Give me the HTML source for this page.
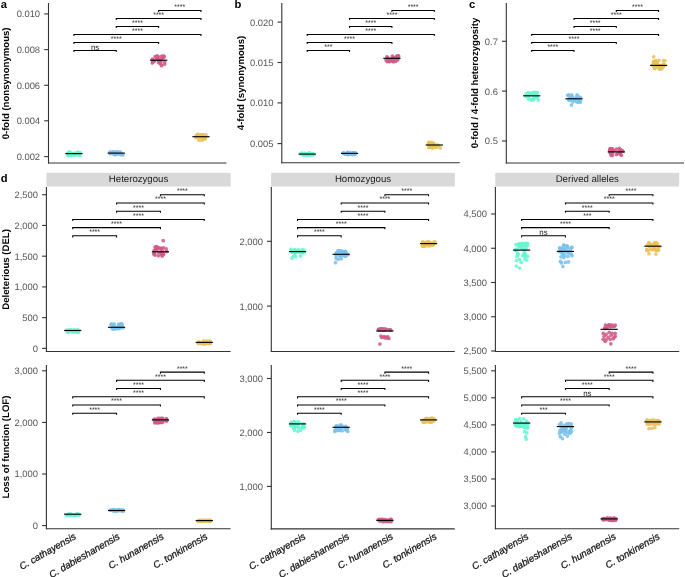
<!DOCTYPE html>
<html><head><meta charset="utf-8"><style>
html,body{margin:0;padding:0;background:#fff;}
body{width:685px;height:577px;overflow:hidden;}
svg{display:block;will-change:transform;}
text{font-family:"Liberation Sans", sans-serif;text-rendering:geometricPrecision;}
.tk{font-size:9.4px;fill:#555;}
.st{font-size:7px;fill:#222;}
.ns{font-size:7.9px;fill:#222;}
.sp{font-size:9.65px;fill:#1a1a1a;}
.lt{font-size:11.2px;font-weight:bold;fill:#000;}
.yt{font-size:9.6px;font-weight:bold;fill:#000;}
.xl{font-size:9.7px;font-style:italic;fill:#111;stroke:#111;stroke-width:0.25px;}
</style></head><body>
<svg width="685" height="577" viewBox="0 0 685 577">
<rect width="685" height="577" fill="#fff"/>
<line x1="48.5" y1="3" x2="48.5" y2="163.5" stroke="#333333" stroke-width="1.1"/>
<line x1="48" y1="163" x2="226.4" y2="163" stroke="#333333" stroke-width="1.1"/>
<line x1="44.2" y1="156.6" x2="48.5" y2="156.6" stroke="#333333" stroke-width="1.1"/>
<text x="40.1" y="160" text-anchor="end" class="tk">0.002</text>
<line x1="44.2" y1="120.8" x2="48.5" y2="120.8" stroke="#333333" stroke-width="1.1"/>
<text x="40.1" y="124.2" text-anchor="end" class="tk">0.004</text>
<line x1="44.2" y1="85.3" x2="48.5" y2="85.3" stroke="#333333" stroke-width="1.1"/>
<text x="40.1" y="88.7" text-anchor="end" class="tk">0.006</text>
<line x1="44.2" y1="49.6" x2="48.5" y2="49.6" stroke="#333333" stroke-width="1.1"/>
<text x="40.1" y="53" text-anchor="end" class="tk">0.008</text>
<line x1="44.2" y1="13.9" x2="48.5" y2="13.9" stroke="#333333" stroke-width="1.1"/>
<text x="40.1" y="17.3" text-anchor="end" class="tk">0.010</text>
<circle cx="72.98" cy="153.98" r="1.85" fill="#66f7d3" fill-opacity="0.88"/>
<circle cx="70.03" cy="154" r="1.85" fill="#66f7d3" fill-opacity="0.88"/>
<circle cx="78.19" cy="154.92" r="1.85" fill="#66f7d3" fill-opacity="0.88"/>
<circle cx="69.43" cy="154.3" r="1.85" fill="#66f7d3" fill-opacity="0.88"/>
<circle cx="71.64" cy="153.78" r="1.85" fill="#66f7d3" fill-opacity="0.88"/>
<circle cx="79.89" cy="152.72" r="1.85" fill="#66f7d3" fill-opacity="0.88"/>
<circle cx="67.9" cy="155.64" r="1.85" fill="#66f7d3" fill-opacity="0.88"/>
<circle cx="75.28" cy="155.1" r="1.85" fill="#66f7d3" fill-opacity="0.88"/>
<circle cx="71.06" cy="153.24" r="1.85" fill="#66f7d3" fill-opacity="0.88"/>
<circle cx="73.34" cy="154.38" r="1.85" fill="#66f7d3" fill-opacity="0.88"/>
<circle cx="76.05" cy="154.42" r="1.85" fill="#66f7d3" fill-opacity="0.88"/>
<circle cx="77.45" cy="152.27" r="1.85" fill="#66f7d3" fill-opacity="0.88"/>
<circle cx="80.11" cy="155.58" r="1.85" fill="#66f7d3" fill-opacity="0.88"/>
<circle cx="67.9" cy="154.14" r="1.85" fill="#66f7d3" fill-opacity="0.88"/>
<circle cx="69.08" cy="151.77" r="1.85" fill="#66f7d3" fill-opacity="0.88"/>
<circle cx="71.31" cy="155.42" r="1.85" fill="#66f7d3" fill-opacity="0.88"/>
<circle cx="79.17" cy="153.18" r="1.85" fill="#66f7d3" fill-opacity="0.88"/>
<circle cx="74.56" cy="152.98" r="1.85" fill="#66f7d3" fill-opacity="0.88"/>
<circle cx="68.17" cy="153.45" r="1.85" fill="#66f7d3" fill-opacity="0.88"/>
<circle cx="78.46" cy="154.03" r="1.85" fill="#66f7d3" fill-opacity="0.88"/>
<circle cx="70.28" cy="152.36" r="1.85" fill="#66f7d3" fill-opacity="0.88"/>
<circle cx="67.8" cy="153.36" r="1.85" fill="#66f7d3" fill-opacity="0.88"/>
<circle cx="78.11" cy="153.69" r="1.85" fill="#66f7d3" fill-opacity="0.88"/>
<circle cx="74.36" cy="154.32" r="1.85" fill="#66f7d3" fill-opacity="0.88"/>
<circle cx="69.29" cy="155.08" r="1.85" fill="#66f7d3" fill-opacity="0.88"/>
<circle cx="72.25" cy="153.96" r="1.85" fill="#66f7d3" fill-opacity="0.88"/>
<circle cx="68.8" cy="154.1" r="1.85" fill="#66f7d3" fill-opacity="0.88"/>
<circle cx="68.59" cy="154.77" r="1.85" fill="#66f7d3" fill-opacity="0.88"/>
<circle cx="77.97" cy="152.4" r="1.85" fill="#66f7d3" fill-opacity="0.88"/>
<circle cx="73.03" cy="155.45" r="1.85" fill="#66f7d3" fill-opacity="0.88"/>
<line x1="65.31" y1="153.6" x2="82.51" y2="153.6" stroke="#000" stroke-width="1.15"/>
<circle cx="117.06" cy="153.06" r="1.85" fill="#7cc2eb" fill-opacity="0.88"/>
<circle cx="115.82" cy="154.43" r="1.85" fill="#7cc2eb" fill-opacity="0.88"/>
<circle cx="117.42" cy="153.22" r="1.85" fill="#7cc2eb" fill-opacity="0.88"/>
<circle cx="116.43" cy="152.29" r="1.85" fill="#7cc2eb" fill-opacity="0.88"/>
<circle cx="120.14" cy="153.58" r="1.85" fill="#7cc2eb" fill-opacity="0.88"/>
<circle cx="113.68" cy="152.02" r="1.85" fill="#7cc2eb" fill-opacity="0.88"/>
<circle cx="120.36" cy="152.01" r="1.85" fill="#7cc2eb" fill-opacity="0.88"/>
<circle cx="110.22" cy="153.76" r="1.85" fill="#7cc2eb" fill-opacity="0.88"/>
<circle cx="122.41" cy="154.6" r="1.85" fill="#7cc2eb" fill-opacity="0.88"/>
<circle cx="117.8" cy="153.65" r="1.85" fill="#7cc2eb" fill-opacity="0.88"/>
<circle cx="109.87" cy="152.21" r="1.85" fill="#7cc2eb" fill-opacity="0.88"/>
<circle cx="110.46" cy="153.28" r="1.85" fill="#7cc2eb" fill-opacity="0.88"/>
<circle cx="112.87" cy="152.3" r="1.85" fill="#7cc2eb" fill-opacity="0.88"/>
<circle cx="115.8" cy="151.84" r="1.85" fill="#7cc2eb" fill-opacity="0.88"/>
<circle cx="120.79" cy="153.03" r="1.85" fill="#7cc2eb" fill-opacity="0.88"/>
<circle cx="118.12" cy="153.26" r="1.85" fill="#7cc2eb" fill-opacity="0.88"/>
<circle cx="118.42" cy="153.2" r="1.85" fill="#7cc2eb" fill-opacity="0.88"/>
<circle cx="113.34" cy="153.08" r="1.85" fill="#7cc2eb" fill-opacity="0.88"/>
<circle cx="122.81" cy="154.64" r="1.85" fill="#7cc2eb" fill-opacity="0.88"/>
<circle cx="119.01" cy="154.19" r="1.85" fill="#7cc2eb" fill-opacity="0.88"/>
<circle cx="112.7" cy="152.66" r="1.85" fill="#7cc2eb" fill-opacity="0.88"/>
<circle cx="110.6" cy="152.59" r="1.85" fill="#7cc2eb" fill-opacity="0.88"/>
<circle cx="114.96" cy="153.97" r="1.85" fill="#7cc2eb" fill-opacity="0.88"/>
<circle cx="114.77" cy="154.21" r="1.85" fill="#7cc2eb" fill-opacity="0.88"/>
<circle cx="120.86" cy="154.53" r="1.85" fill="#7cc2eb" fill-opacity="0.88"/>
<circle cx="112.44" cy="151.75" r="1.85" fill="#7cc2eb" fill-opacity="0.88"/>
<circle cx="115.88" cy="154.39" r="1.85" fill="#7cc2eb" fill-opacity="0.88"/>
<circle cx="114.92" cy="154.59" r="1.85" fill="#7cc2eb" fill-opacity="0.88"/>
<circle cx="117.98" cy="151.96" r="1.85" fill="#7cc2eb" fill-opacity="0.88"/>
<circle cx="113.23" cy="154.01" r="1.85" fill="#7cc2eb" fill-opacity="0.88"/>
<line x1="107.67" y1="153.1" x2="124.87" y2="153.1" stroke="#000" stroke-width="1.15"/>
<circle cx="160.71" cy="59.78" r="1.85" fill="#d05b88" fill-opacity="0.88"/>
<circle cx="153.91" cy="61.45" r="1.85" fill="#d05b88" fill-opacity="0.88"/>
<circle cx="156.98" cy="55.74" r="1.85" fill="#d05b88" fill-opacity="0.88"/>
<circle cx="162.73" cy="58.03" r="1.85" fill="#d05b88" fill-opacity="0.88"/>
<circle cx="159.97" cy="61.66" r="1.85" fill="#d05b88" fill-opacity="0.88"/>
<circle cx="160.76" cy="60.51" r="1.85" fill="#d05b88" fill-opacity="0.88"/>
<circle cx="157.84" cy="56.91" r="1.85" fill="#d05b88" fill-opacity="0.88"/>
<circle cx="163.99" cy="57.06" r="1.85" fill="#d05b88" fill-opacity="0.88"/>
<circle cx="162.84" cy="56.16" r="1.85" fill="#d05b88" fill-opacity="0.88"/>
<circle cx="161.1" cy="56.3" r="1.85" fill="#d05b88" fill-opacity="0.88"/>
<circle cx="157.37" cy="58.58" r="1.85" fill="#d05b88" fill-opacity="0.88"/>
<circle cx="152.27" cy="62.98" r="1.85" fill="#d05b88" fill-opacity="0.88"/>
<circle cx="164.11" cy="56.18" r="1.85" fill="#d05b88" fill-opacity="0.88"/>
<circle cx="153.23" cy="60.08" r="1.85" fill="#d05b88" fill-opacity="0.88"/>
<circle cx="164.53" cy="64.24" r="1.85" fill="#d05b88" fill-opacity="0.88"/>
<circle cx="157.61" cy="56.63" r="1.85" fill="#d05b88" fill-opacity="0.88"/>
<circle cx="156.15" cy="56.83" r="1.85" fill="#d05b88" fill-opacity="0.88"/>
<circle cx="154.19" cy="61.06" r="1.85" fill="#d05b88" fill-opacity="0.88"/>
<circle cx="152.71" cy="61.71" r="1.85" fill="#d05b88" fill-opacity="0.88"/>
<circle cx="162.8" cy="57.14" r="1.85" fill="#d05b88" fill-opacity="0.88"/>
<circle cx="157.56" cy="59.13" r="1.85" fill="#d05b88" fill-opacity="0.88"/>
<circle cx="158.32" cy="60.83" r="1.85" fill="#d05b88" fill-opacity="0.88"/>
<circle cx="152.43" cy="59" r="1.85" fill="#d05b88" fill-opacity="0.88"/>
<circle cx="164.8" cy="61.97" r="1.85" fill="#d05b88" fill-opacity="0.88"/>
<circle cx="160.79" cy="64.14" r="1.85" fill="#d05b88" fill-opacity="0.88"/>
<circle cx="156.82" cy="58.75" r="1.85" fill="#d05b88" fill-opacity="0.88"/>
<circle cx="160.92" cy="61.65" r="1.85" fill="#d05b88" fill-opacity="0.88"/>
<circle cx="155.13" cy="56.64" r="1.85" fill="#d05b88" fill-opacity="0.88"/>
<circle cx="158.78" cy="58.81" r="1.85" fill="#d05b88" fill-opacity="0.88"/>
<circle cx="158.63" cy="62.7" r="1.85" fill="#d05b88" fill-opacity="0.88"/>
<circle cx="161.63" cy="65.7" r="1.85" fill="#d05b88" fill-opacity="0.88"/>
<line x1="150.03" y1="60.2" x2="167.23" y2="60.2" stroke="#000" stroke-width="1.15"/>
<circle cx="203.43" cy="135.49" r="1.85" fill="#e9c259" fill-opacity="0.88"/>
<circle cx="205.6" cy="137.53" r="1.85" fill="#e9c259" fill-opacity="0.88"/>
<circle cx="197.43" cy="135.14" r="1.85" fill="#e9c259" fill-opacity="0.88"/>
<circle cx="197.36" cy="134.96" r="1.85" fill="#e9c259" fill-opacity="0.88"/>
<circle cx="196.1" cy="137.77" r="1.85" fill="#e9c259" fill-opacity="0.88"/>
<circle cx="197.21" cy="136.8" r="1.85" fill="#e9c259" fill-opacity="0.88"/>
<circle cx="200.08" cy="135.66" r="1.85" fill="#e9c259" fill-opacity="0.88"/>
<circle cx="202.42" cy="138.27" r="1.85" fill="#e9c259" fill-opacity="0.88"/>
<circle cx="198.03" cy="134.32" r="1.85" fill="#e9c259" fill-opacity="0.88"/>
<circle cx="205.89" cy="134.95" r="1.85" fill="#e9c259" fill-opacity="0.88"/>
<circle cx="205.03" cy="138.14" r="1.85" fill="#e9c259" fill-opacity="0.88"/>
<circle cx="204.22" cy="138.22" r="1.85" fill="#e9c259" fill-opacity="0.88"/>
<circle cx="204.86" cy="138.81" r="1.85" fill="#e9c259" fill-opacity="0.88"/>
<circle cx="205.6" cy="135.48" r="1.85" fill="#e9c259" fill-opacity="0.88"/>
<circle cx="204.35" cy="136.59" r="1.85" fill="#e9c259" fill-opacity="0.88"/>
<circle cx="200.06" cy="136.96" r="1.85" fill="#e9c259" fill-opacity="0.88"/>
<circle cx="200.06" cy="136" r="1.85" fill="#e9c259" fill-opacity="0.88"/>
<circle cx="195.93" cy="135.76" r="1.85" fill="#e9c259" fill-opacity="0.88"/>
<circle cx="204.92" cy="138.18" r="1.85" fill="#e9c259" fill-opacity="0.88"/>
<circle cx="203.51" cy="138.98" r="1.85" fill="#e9c259" fill-opacity="0.88"/>
<circle cx="204.26" cy="136.91" r="1.85" fill="#e9c259" fill-opacity="0.88"/>
<circle cx="203.32" cy="134.9" r="1.85" fill="#e9c259" fill-opacity="0.88"/>
<circle cx="196.72" cy="136.38" r="1.85" fill="#e9c259" fill-opacity="0.88"/>
<circle cx="201.29" cy="135.22" r="1.85" fill="#e9c259" fill-opacity="0.88"/>
<circle cx="200.45" cy="135.47" r="1.85" fill="#e9c259" fill-opacity="0.88"/>
<circle cx="199.61" cy="137.16" r="1.85" fill="#e9c259" fill-opacity="0.88"/>
<circle cx="200.87" cy="134.88" r="1.85" fill="#e9c259" fill-opacity="0.88"/>
<circle cx="197.5" cy="135.38" r="1.85" fill="#e9c259" fill-opacity="0.88"/>
<circle cx="199.22" cy="135.18" r="1.85" fill="#e9c259" fill-opacity="0.88"/>
<circle cx="202.98" cy="134.6" r="1.85" fill="#e9c259" fill-opacity="0.88"/>
<circle cx="198.99" cy="140.2" r="1.85" fill="#e9c259" fill-opacity="0.88"/>
<circle cx="201.99" cy="140.3" r="1.85" fill="#e9c259" fill-opacity="0.88"/>
<line x1="192.39" y1="136.7" x2="209.59" y2="136.7" stroke="#000" stroke-width="1.15"/>
<path d="M73.91 52V50.4H116.27V52" fill="none" stroke="#000" stroke-width="1.05"/>
<text x="95.09" y="49.5" text-anchor="middle" class="ns">ns</text>
<path d="M73.91 44V42.4H158.63V44" fill="none" stroke="#000" stroke-width="1.05"/>
<text x="116.27" y="40.8" text-anchor="middle" class="st">****</text>
<path d="M73.91 36V34.4H200.99V36" fill="none" stroke="#000" stroke-width="1.05"/>
<text x="137.45" y="32.8" text-anchor="middle" class="st">****</text>
<path d="M116.27 28V26.4H158.63V28" fill="none" stroke="#000" stroke-width="1.05"/>
<text x="137.45" y="24.8" text-anchor="middle" class="st">****</text>
<path d="M116.27 20.1V18.5H200.99V20.1" fill="none" stroke="#000" stroke-width="1.05"/>
<text x="158.63" y="16.9" text-anchor="middle" class="st">****</text>
<path d="M158.63 12.1V10.5H200.99V12.1" fill="none" stroke="#000" stroke-width="1.05"/>
<text x="179.81" y="8.9" text-anchor="middle" class="st">****</text>
<line x1="281.8" y1="3" x2="281.8" y2="163.2" stroke="#333333" stroke-width="1.1"/>
<line x1="281.3" y1="162.7" x2="459.7" y2="162.7" stroke="#333333" stroke-width="1.1"/>
<line x1="277.5" y1="143.6" x2="281.8" y2="143.6" stroke="#333333" stroke-width="1.1"/>
<text x="273.4" y="147" text-anchor="end" class="tk">0.005</text>
<line x1="277.5" y1="102.9" x2="281.8" y2="102.9" stroke="#333333" stroke-width="1.1"/>
<text x="273.4" y="106.3" text-anchor="end" class="tk">0.010</text>
<line x1="277.5" y1="62.5" x2="281.8" y2="62.5" stroke="#333333" stroke-width="1.1"/>
<text x="273.4" y="65.9" text-anchor="end" class="tk">0.015</text>
<line x1="277.5" y1="22.1" x2="281.8" y2="22.1" stroke="#333333" stroke-width="1.1"/>
<text x="273.4" y="25.5" text-anchor="end" class="tk">0.020</text>
<circle cx="309.67" cy="155.05" r="1.85" fill="#66f7d3" fill-opacity="0.88"/>
<circle cx="312.56" cy="154.76" r="1.85" fill="#66f7d3" fill-opacity="0.88"/>
<circle cx="309.01" cy="153.7" r="1.85" fill="#66f7d3" fill-opacity="0.88"/>
<circle cx="312.13" cy="155.05" r="1.85" fill="#66f7d3" fill-opacity="0.88"/>
<circle cx="302.85" cy="154.35" r="1.85" fill="#66f7d3" fill-opacity="0.88"/>
<circle cx="313.73" cy="154.01" r="1.85" fill="#66f7d3" fill-opacity="0.88"/>
<circle cx="304.83" cy="153.37" r="1.85" fill="#66f7d3" fill-opacity="0.88"/>
<circle cx="306.55" cy="155.15" r="1.85" fill="#66f7d3" fill-opacity="0.88"/>
<circle cx="304.8" cy="153.59" r="1.85" fill="#66f7d3" fill-opacity="0.88"/>
<circle cx="305.04" cy="155.06" r="1.85" fill="#66f7d3" fill-opacity="0.88"/>
<circle cx="308.9" cy="154.05" r="1.85" fill="#66f7d3" fill-opacity="0.88"/>
<circle cx="307.11" cy="154.84" r="1.85" fill="#66f7d3" fill-opacity="0.88"/>
<circle cx="308.18" cy="153.32" r="1.85" fill="#66f7d3" fill-opacity="0.88"/>
<circle cx="301.86" cy="153.22" r="1.85" fill="#66f7d3" fill-opacity="0.88"/>
<circle cx="309.77" cy="153.55" r="1.85" fill="#66f7d3" fill-opacity="0.88"/>
<circle cx="309.73" cy="153.75" r="1.85" fill="#66f7d3" fill-opacity="0.88"/>
<circle cx="302.17" cy="153.49" r="1.85" fill="#66f7d3" fill-opacity="0.88"/>
<circle cx="309.93" cy="153.2" r="1.85" fill="#66f7d3" fill-opacity="0.88"/>
<circle cx="303.51" cy="154.95" r="1.85" fill="#66f7d3" fill-opacity="0.88"/>
<circle cx="300.79" cy="153.65" r="1.85" fill="#66f7d3" fill-opacity="0.88"/>
<circle cx="304.58" cy="154.5" r="1.85" fill="#66f7d3" fill-opacity="0.88"/>
<circle cx="309.15" cy="153.44" r="1.85" fill="#66f7d3" fill-opacity="0.88"/>
<circle cx="306.52" cy="154.41" r="1.85" fill="#66f7d3" fill-opacity="0.88"/>
<circle cx="309.04" cy="153.47" r="1.85" fill="#66f7d3" fill-opacity="0.88"/>
<circle cx="306.33" cy="154.32" r="1.85" fill="#66f7d3" fill-opacity="0.88"/>
<circle cx="312.87" cy="153.5" r="1.85" fill="#66f7d3" fill-opacity="0.88"/>
<circle cx="309.72" cy="154.96" r="1.85" fill="#66f7d3" fill-opacity="0.88"/>
<circle cx="308.28" cy="155.24" r="1.85" fill="#66f7d3" fill-opacity="0.88"/>
<circle cx="302.15" cy="153.87" r="1.85" fill="#66f7d3" fill-opacity="0.88"/>
<circle cx="307.47" cy="154.43" r="1.85" fill="#66f7d3" fill-opacity="0.88"/>
<line x1="298.61" y1="154.1" x2="315.81" y2="154.1" stroke="#000" stroke-width="1.15"/>
<circle cx="352.08" cy="152.8" r="1.85" fill="#7cc2eb" fill-opacity="0.88"/>
<circle cx="349.3" cy="153.78" r="1.85" fill="#7cc2eb" fill-opacity="0.88"/>
<circle cx="353.43" cy="152.9" r="1.85" fill="#7cc2eb" fill-opacity="0.88"/>
<circle cx="349.74" cy="154.15" r="1.85" fill="#7cc2eb" fill-opacity="0.88"/>
<circle cx="346.09" cy="153.51" r="1.85" fill="#7cc2eb" fill-opacity="0.88"/>
<circle cx="347.87" cy="152.46" r="1.85" fill="#7cc2eb" fill-opacity="0.88"/>
<circle cx="343.89" cy="153.68" r="1.85" fill="#7cc2eb" fill-opacity="0.88"/>
<circle cx="346.04" cy="154.12" r="1.85" fill="#7cc2eb" fill-opacity="0.88"/>
<circle cx="343.53" cy="152.94" r="1.85" fill="#7cc2eb" fill-opacity="0.88"/>
<circle cx="352.72" cy="154.54" r="1.85" fill="#7cc2eb" fill-opacity="0.88"/>
<circle cx="351.1" cy="154.29" r="1.85" fill="#7cc2eb" fill-opacity="0.88"/>
<circle cx="347.31" cy="152.52" r="1.85" fill="#7cc2eb" fill-opacity="0.88"/>
<circle cx="344.5" cy="153.49" r="1.85" fill="#7cc2eb" fill-opacity="0.88"/>
<circle cx="347.83" cy="154.45" r="1.85" fill="#7cc2eb" fill-opacity="0.88"/>
<circle cx="353.76" cy="152.78" r="1.85" fill="#7cc2eb" fill-opacity="0.88"/>
<circle cx="355.22" cy="152.71" r="1.85" fill="#7cc2eb" fill-opacity="0.88"/>
<circle cx="350.26" cy="153.4" r="1.85" fill="#7cc2eb" fill-opacity="0.88"/>
<circle cx="349.37" cy="153.17" r="1.85" fill="#7cc2eb" fill-opacity="0.88"/>
<circle cx="343.46" cy="152.84" r="1.85" fill="#7cc2eb" fill-opacity="0.88"/>
<circle cx="346.07" cy="154.27" r="1.85" fill="#7cc2eb" fill-opacity="0.88"/>
<circle cx="345.72" cy="154.09" r="1.85" fill="#7cc2eb" fill-opacity="0.88"/>
<circle cx="354.77" cy="154.48" r="1.85" fill="#7cc2eb" fill-opacity="0.88"/>
<circle cx="353.04" cy="154.04" r="1.85" fill="#7cc2eb" fill-opacity="0.88"/>
<circle cx="352.6" cy="153.67" r="1.85" fill="#7cc2eb" fill-opacity="0.88"/>
<circle cx="349.26" cy="152.71" r="1.85" fill="#7cc2eb" fill-opacity="0.88"/>
<circle cx="345.63" cy="154.19" r="1.85" fill="#7cc2eb" fill-opacity="0.88"/>
<circle cx="354.69" cy="154.39" r="1.85" fill="#7cc2eb" fill-opacity="0.88"/>
<circle cx="347.79" cy="153.31" r="1.85" fill="#7cc2eb" fill-opacity="0.88"/>
<circle cx="348.06" cy="153.4" r="1.85" fill="#7cc2eb" fill-opacity="0.88"/>
<circle cx="348.07" cy="154.54" r="1.85" fill="#7cc2eb" fill-opacity="0.88"/>
<line x1="340.97" y1="153.4" x2="358.17" y2="153.4" stroke="#000" stroke-width="1.15"/>
<circle cx="387.18" cy="61.6" r="1.85" fill="#d05b88" fill-opacity="0.88"/>
<circle cx="398.51" cy="55.89" r="1.85" fill="#d05b88" fill-opacity="0.88"/>
<circle cx="386.92" cy="56.87" r="1.85" fill="#d05b88" fill-opacity="0.88"/>
<circle cx="389.89" cy="59.72" r="1.85" fill="#d05b88" fill-opacity="0.88"/>
<circle cx="388.39" cy="61.18" r="1.85" fill="#d05b88" fill-opacity="0.88"/>
<circle cx="389.55" cy="61.6" r="1.85" fill="#d05b88" fill-opacity="0.88"/>
<circle cx="397.63" cy="59.42" r="1.85" fill="#d05b88" fill-opacity="0.88"/>
<circle cx="397.52" cy="59.93" r="1.85" fill="#d05b88" fill-opacity="0.88"/>
<circle cx="385.97" cy="60.07" r="1.85" fill="#d05b88" fill-opacity="0.88"/>
<circle cx="393.11" cy="61.13" r="1.85" fill="#d05b88" fill-opacity="0.88"/>
<circle cx="387.84" cy="57.65" r="1.85" fill="#d05b88" fill-opacity="0.88"/>
<circle cx="393.02" cy="60.93" r="1.85" fill="#d05b88" fill-opacity="0.88"/>
<circle cx="395.54" cy="61.47" r="1.85" fill="#d05b88" fill-opacity="0.88"/>
<circle cx="392.8" cy="61.61" r="1.85" fill="#d05b88" fill-opacity="0.88"/>
<circle cx="393.41" cy="60.01" r="1.85" fill="#d05b88" fill-opacity="0.88"/>
<circle cx="397.96" cy="57.33" r="1.85" fill="#d05b88" fill-opacity="0.88"/>
<circle cx="395.64" cy="57.66" r="1.85" fill="#d05b88" fill-opacity="0.88"/>
<circle cx="393.92" cy="61.57" r="1.85" fill="#d05b88" fill-opacity="0.88"/>
<circle cx="396.22" cy="56.62" r="1.85" fill="#d05b88" fill-opacity="0.88"/>
<circle cx="387.77" cy="59.82" r="1.85" fill="#d05b88" fill-opacity="0.88"/>
<circle cx="392.35" cy="56.05" r="1.85" fill="#d05b88" fill-opacity="0.88"/>
<circle cx="397.54" cy="55.95" r="1.85" fill="#d05b88" fill-opacity="0.88"/>
<circle cx="392.16" cy="58.84" r="1.85" fill="#d05b88" fill-opacity="0.88"/>
<circle cx="394.05" cy="58.25" r="1.85" fill="#d05b88" fill-opacity="0.88"/>
<circle cx="389.39" cy="61.34" r="1.85" fill="#d05b88" fill-opacity="0.88"/>
<circle cx="393.02" cy="58.03" r="1.85" fill="#d05b88" fill-opacity="0.88"/>
<circle cx="393.19" cy="57.56" r="1.85" fill="#d05b88" fill-opacity="0.88"/>
<circle cx="391.05" cy="59.06" r="1.85" fill="#d05b88" fill-opacity="0.88"/>
<circle cx="392.3" cy="59.86" r="1.85" fill="#d05b88" fill-opacity="0.88"/>
<circle cx="398.48" cy="56.29" r="1.85" fill="#d05b88" fill-opacity="0.88"/>
<line x1="383.33" y1="58.3" x2="400.53" y2="58.3" stroke="#000" stroke-width="1.15"/>
<circle cx="440.21" cy="147.79" r="1.85" fill="#e9c259" fill-opacity="0.88"/>
<circle cx="428.79" cy="147.59" r="1.85" fill="#e9c259" fill-opacity="0.88"/>
<circle cx="433.28" cy="145.76" r="1.85" fill="#e9c259" fill-opacity="0.88"/>
<circle cx="429.41" cy="145.38" r="1.85" fill="#e9c259" fill-opacity="0.88"/>
<circle cx="433.55" cy="143.32" r="1.85" fill="#e9c259" fill-opacity="0.88"/>
<circle cx="433.69" cy="143.5" r="1.85" fill="#e9c259" fill-opacity="0.88"/>
<circle cx="428.82" cy="142.3" r="1.85" fill="#e9c259" fill-opacity="0.88"/>
<circle cx="433.25" cy="146.48" r="1.85" fill="#e9c259" fill-opacity="0.88"/>
<circle cx="437.38" cy="145.28" r="1.85" fill="#e9c259" fill-opacity="0.88"/>
<circle cx="428.45" cy="144.34" r="1.85" fill="#e9c259" fill-opacity="0.88"/>
<circle cx="435.46" cy="146.93" r="1.85" fill="#e9c259" fill-opacity="0.88"/>
<circle cx="435.88" cy="146.16" r="1.85" fill="#e9c259" fill-opacity="0.88"/>
<circle cx="432.47" cy="148.07" r="1.85" fill="#e9c259" fill-opacity="0.88"/>
<circle cx="432.55" cy="146.78" r="1.85" fill="#e9c259" fill-opacity="0.88"/>
<circle cx="436.4" cy="145.64" r="1.85" fill="#e9c259" fill-opacity="0.88"/>
<circle cx="428.82" cy="144.07" r="1.85" fill="#e9c259" fill-opacity="0.88"/>
<circle cx="437.16" cy="145.04" r="1.85" fill="#e9c259" fill-opacity="0.88"/>
<circle cx="433.59" cy="145.75" r="1.85" fill="#e9c259" fill-opacity="0.88"/>
<circle cx="430.09" cy="146.07" r="1.85" fill="#e9c259" fill-opacity="0.88"/>
<circle cx="431.95" cy="143.24" r="1.85" fill="#e9c259" fill-opacity="0.88"/>
<circle cx="430.27" cy="147.13" r="1.85" fill="#e9c259" fill-opacity="0.88"/>
<circle cx="428.99" cy="142.85" r="1.85" fill="#e9c259" fill-opacity="0.88"/>
<circle cx="431.32" cy="142.39" r="1.85" fill="#e9c259" fill-opacity="0.88"/>
<circle cx="438.52" cy="145.64" r="1.85" fill="#e9c259" fill-opacity="0.88"/>
<circle cx="432.57" cy="144.17" r="1.85" fill="#e9c259" fill-opacity="0.88"/>
<circle cx="431.71" cy="143.91" r="1.85" fill="#e9c259" fill-opacity="0.88"/>
<circle cx="434.93" cy="146.89" r="1.85" fill="#e9c259" fill-opacity="0.88"/>
<circle cx="429.1" cy="143.73" r="1.85" fill="#e9c259" fill-opacity="0.88"/>
<circle cx="437.02" cy="146.93" r="1.85" fill="#e9c259" fill-opacity="0.88"/>
<circle cx="430.83" cy="147.2" r="1.85" fill="#e9c259" fill-opacity="0.88"/>
<line x1="425.69" y1="145" x2="442.89" y2="145" stroke="#000" stroke-width="1.15"/>
<path d="M307.21 52V50.4H349.57V52" fill="none" stroke="#000" stroke-width="1.05"/>
<text x="328.39" y="48.8" text-anchor="middle" class="st">***</text>
<path d="M307.21 44V42.4H391.93V44" fill="none" stroke="#000" stroke-width="1.05"/>
<text x="349.57" y="40.8" text-anchor="middle" class="st">****</text>
<path d="M307.21 36V34.4H434.29V36" fill="none" stroke="#000" stroke-width="1.05"/>
<text x="370.75" y="32.8" text-anchor="middle" class="st">****</text>
<path d="M349.57 28V26.4H391.93V28" fill="none" stroke="#000" stroke-width="1.05"/>
<text x="370.75" y="24.8" text-anchor="middle" class="st">****</text>
<path d="M349.57 20.1V18.5H434.29V20.1" fill="none" stroke="#000" stroke-width="1.05"/>
<text x="391.93" y="16.9" text-anchor="middle" class="st">****</text>
<path d="M391.93 12.1V10.5H434.29V12.1" fill="none" stroke="#000" stroke-width="1.05"/>
<text x="413.11" y="8.9" text-anchor="middle" class="st">****</text>
<line x1="506.3" y1="3" x2="506.3" y2="163.5" stroke="#333333" stroke-width="1.1"/>
<line x1="505.8" y1="163" x2="684" y2="163" stroke="#333333" stroke-width="1.1"/>
<line x1="502" y1="141" x2="506.3" y2="141" stroke="#333333" stroke-width="1.1"/>
<text x="497.9" y="144.4" text-anchor="end" class="tk">0.5</text>
<line x1="502" y1="91.1" x2="506.3" y2="91.1" stroke="#333333" stroke-width="1.1"/>
<text x="497.9" y="94.5" text-anchor="end" class="tk">0.6</text>
<line x1="502" y1="41.3" x2="506.3" y2="41.3" stroke="#333333" stroke-width="1.1"/>
<text x="497.9" y="44.7" text-anchor="end" class="tk">0.7</text>
<circle cx="528.9" cy="96.31" r="1.85" fill="#66f7d3" fill-opacity="0.88"/>
<circle cx="533.71" cy="92.29" r="1.85" fill="#66f7d3" fill-opacity="0.88"/>
<circle cx="528.48" cy="93.71" r="1.85" fill="#66f7d3" fill-opacity="0.88"/>
<circle cx="533.55" cy="95.19" r="1.85" fill="#66f7d3" fill-opacity="0.88"/>
<circle cx="531.18" cy="99.86" r="1.85" fill="#66f7d3" fill-opacity="0.88"/>
<circle cx="538.19" cy="99.9" r="1.85" fill="#66f7d3" fill-opacity="0.88"/>
<circle cx="526.04" cy="93.97" r="1.85" fill="#66f7d3" fill-opacity="0.88"/>
<circle cx="536.2" cy="93.31" r="1.85" fill="#66f7d3" fill-opacity="0.88"/>
<circle cx="537.2" cy="96.79" r="1.85" fill="#66f7d3" fill-opacity="0.88"/>
<circle cx="533.72" cy="99.73" r="1.85" fill="#66f7d3" fill-opacity="0.88"/>
<circle cx="525.98" cy="96.28" r="1.85" fill="#66f7d3" fill-opacity="0.88"/>
<circle cx="535.72" cy="92.24" r="1.85" fill="#66f7d3" fill-opacity="0.88"/>
<circle cx="535.16" cy="97.36" r="1.85" fill="#66f7d3" fill-opacity="0.88"/>
<circle cx="533.98" cy="96.52" r="1.85" fill="#66f7d3" fill-opacity="0.88"/>
<circle cx="536.9" cy="97.1" r="1.85" fill="#66f7d3" fill-opacity="0.88"/>
<circle cx="531.61" cy="92.93" r="1.85" fill="#66f7d3" fill-opacity="0.88"/>
<circle cx="536.03" cy="94.49" r="1.85" fill="#66f7d3" fill-opacity="0.88"/>
<circle cx="528.41" cy="98.98" r="1.85" fill="#66f7d3" fill-opacity="0.88"/>
<circle cx="528.3" cy="92.68" r="1.85" fill="#66f7d3" fill-opacity="0.88"/>
<circle cx="535.24" cy="94.54" r="1.85" fill="#66f7d3" fill-opacity="0.88"/>
<circle cx="534.98" cy="95.29" r="1.85" fill="#66f7d3" fill-opacity="0.88"/>
<circle cx="532" cy="94.43" r="1.85" fill="#66f7d3" fill-opacity="0.88"/>
<circle cx="533.6" cy="93.52" r="1.85" fill="#66f7d3" fill-opacity="0.88"/>
<circle cx="536.47" cy="96.1" r="1.85" fill="#66f7d3" fill-opacity="0.88"/>
<circle cx="531.95" cy="99.54" r="1.85" fill="#66f7d3" fill-opacity="0.88"/>
<circle cx="537.46" cy="92.59" r="1.85" fill="#66f7d3" fill-opacity="0.88"/>
<circle cx="531.35" cy="99.51" r="1.85" fill="#66f7d3" fill-opacity="0.88"/>
<circle cx="537.4" cy="95.89" r="1.85" fill="#66f7d3" fill-opacity="0.88"/>
<circle cx="528.46" cy="94.05" r="1.85" fill="#66f7d3" fill-opacity="0.88"/>
<circle cx="534" cy="97.54" r="1.85" fill="#66f7d3" fill-opacity="0.88"/>
<line x1="523.09" y1="95.8" x2="540.29" y2="95.8" stroke="#000" stroke-width="1.15"/>
<circle cx="568.88" cy="94.74" r="1.85" fill="#7cc2eb" fill-opacity="0.88"/>
<circle cx="576.42" cy="97.67" r="1.85" fill="#7cc2eb" fill-opacity="0.88"/>
<circle cx="568.88" cy="95.72" r="1.85" fill="#7cc2eb" fill-opacity="0.88"/>
<circle cx="577.4" cy="96.43" r="1.85" fill="#7cc2eb" fill-opacity="0.88"/>
<circle cx="577.17" cy="95.78" r="1.85" fill="#7cc2eb" fill-opacity="0.88"/>
<circle cx="569.2" cy="99.75" r="1.85" fill="#7cc2eb" fill-opacity="0.88"/>
<circle cx="573.31" cy="98.77" r="1.85" fill="#7cc2eb" fill-opacity="0.88"/>
<circle cx="580.55" cy="97.83" r="1.85" fill="#7cc2eb" fill-opacity="0.88"/>
<circle cx="567.66" cy="95.37" r="1.85" fill="#7cc2eb" fill-opacity="0.88"/>
<circle cx="572.71" cy="101.89" r="1.85" fill="#7cc2eb" fill-opacity="0.88"/>
<circle cx="571.76" cy="96.18" r="1.85" fill="#7cc2eb" fill-opacity="0.88"/>
<circle cx="580" cy="97.46" r="1.85" fill="#7cc2eb" fill-opacity="0.88"/>
<circle cx="570.26" cy="96.27" r="1.85" fill="#7cc2eb" fill-opacity="0.88"/>
<circle cx="574.62" cy="99.15" r="1.85" fill="#7cc2eb" fill-opacity="0.88"/>
<circle cx="578.47" cy="101.99" r="1.85" fill="#7cc2eb" fill-opacity="0.88"/>
<circle cx="570.09" cy="97.39" r="1.85" fill="#7cc2eb" fill-opacity="0.88"/>
<circle cx="580.45" cy="101.09" r="1.85" fill="#7cc2eb" fill-opacity="0.88"/>
<circle cx="577.1" cy="94.88" r="1.85" fill="#7cc2eb" fill-opacity="0.88"/>
<circle cx="575.99" cy="101.34" r="1.85" fill="#7cc2eb" fill-opacity="0.88"/>
<circle cx="577.91" cy="96.33" r="1.85" fill="#7cc2eb" fill-opacity="0.88"/>
<circle cx="569.95" cy="100.27" r="1.85" fill="#7cc2eb" fill-opacity="0.88"/>
<circle cx="570.29" cy="99.58" r="1.85" fill="#7cc2eb" fill-opacity="0.88"/>
<circle cx="571.83" cy="94.97" r="1.85" fill="#7cc2eb" fill-opacity="0.88"/>
<circle cx="572.62" cy="97.22" r="1.85" fill="#7cc2eb" fill-opacity="0.88"/>
<circle cx="578.43" cy="99.63" r="1.85" fill="#7cc2eb" fill-opacity="0.88"/>
<circle cx="580.28" cy="102.05" r="1.85" fill="#7cc2eb" fill-opacity="0.88"/>
<circle cx="577.82" cy="102.3" r="1.85" fill="#7cc2eb" fill-opacity="0.88"/>
<circle cx="569.72" cy="97.01" r="1.85" fill="#7cc2eb" fill-opacity="0.88"/>
<circle cx="574.6" cy="99.45" r="1.85" fill="#7cc2eb" fill-opacity="0.88"/>
<circle cx="568.63" cy="99.84" r="1.85" fill="#7cc2eb" fill-opacity="0.88"/>
<circle cx="571.4" cy="105.1" r="1.85" fill="#7cc2eb" fill-opacity="0.88"/>
<line x1="565.4" y1="98.8" x2="582.6" y2="98.8" stroke="#000" stroke-width="1.15"/>
<circle cx="612.52" cy="148.92" r="1.85" fill="#d05b88" fill-opacity="0.88"/>
<circle cx="621.59" cy="150.56" r="1.85" fill="#d05b88" fill-opacity="0.88"/>
<circle cx="619.21" cy="151.97" r="1.85" fill="#d05b88" fill-opacity="0.88"/>
<circle cx="616.42" cy="149.08" r="1.85" fill="#d05b88" fill-opacity="0.88"/>
<circle cx="616.61" cy="154.5" r="1.85" fill="#d05b88" fill-opacity="0.88"/>
<circle cx="621.34" cy="155.25" r="1.85" fill="#d05b88" fill-opacity="0.88"/>
<circle cx="609.71" cy="151.06" r="1.85" fill="#d05b88" fill-opacity="0.88"/>
<circle cx="611.37" cy="153.86" r="1.85" fill="#d05b88" fill-opacity="0.88"/>
<circle cx="619.35" cy="148.42" r="1.85" fill="#d05b88" fill-opacity="0.88"/>
<circle cx="620.75" cy="154.5" r="1.85" fill="#d05b88" fill-opacity="0.88"/>
<circle cx="612.37" cy="155.31" r="1.85" fill="#d05b88" fill-opacity="0.88"/>
<circle cx="611.3" cy="148.94" r="1.85" fill="#d05b88" fill-opacity="0.88"/>
<circle cx="611.18" cy="155.49" r="1.85" fill="#d05b88" fill-opacity="0.88"/>
<circle cx="609.97" cy="149.51" r="1.85" fill="#d05b88" fill-opacity="0.88"/>
<circle cx="610.21" cy="148.71" r="1.85" fill="#d05b88" fill-opacity="0.88"/>
<circle cx="611.86" cy="150.93" r="1.85" fill="#d05b88" fill-opacity="0.88"/>
<circle cx="621.97" cy="150.61" r="1.85" fill="#d05b88" fill-opacity="0.88"/>
<circle cx="620.45" cy="149.57" r="1.85" fill="#d05b88" fill-opacity="0.88"/>
<circle cx="617.21" cy="153.74" r="1.85" fill="#d05b88" fill-opacity="0.88"/>
<circle cx="619.87" cy="152.55" r="1.85" fill="#d05b88" fill-opacity="0.88"/>
<circle cx="612.73" cy="152.64" r="1.85" fill="#d05b88" fill-opacity="0.88"/>
<circle cx="612.93" cy="150.76" r="1.85" fill="#d05b88" fill-opacity="0.88"/>
<circle cx="622.74" cy="151.27" r="1.85" fill="#d05b88" fill-opacity="0.88"/>
<circle cx="610.62" cy="151.47" r="1.85" fill="#d05b88" fill-opacity="0.88"/>
<circle cx="620.43" cy="151.83" r="1.85" fill="#d05b88" fill-opacity="0.88"/>
<circle cx="618.98" cy="151.6" r="1.85" fill="#d05b88" fill-opacity="0.88"/>
<circle cx="610.53" cy="149.01" r="1.85" fill="#d05b88" fill-opacity="0.88"/>
<circle cx="610.34" cy="153.18" r="1.85" fill="#d05b88" fill-opacity="0.88"/>
<circle cx="614.78" cy="150.55" r="1.85" fill="#d05b88" fill-opacity="0.88"/>
<circle cx="610.18" cy="149.76" r="1.85" fill="#d05b88" fill-opacity="0.88"/>
<line x1="607.7" y1="151.9" x2="624.9" y2="151.9" stroke="#000" stroke-width="1.15"/>
<circle cx="660.36" cy="65.55" r="1.85" fill="#e9c259" fill-opacity="0.88"/>
<circle cx="655.67" cy="67.85" r="1.85" fill="#e9c259" fill-opacity="0.88"/>
<circle cx="663.77" cy="66.31" r="1.85" fill="#e9c259" fill-opacity="0.88"/>
<circle cx="654.48" cy="68.7" r="1.85" fill="#e9c259" fill-opacity="0.88"/>
<circle cx="660.16" cy="66.31" r="1.85" fill="#e9c259" fill-opacity="0.88"/>
<circle cx="664.77" cy="64.93" r="1.85" fill="#e9c259" fill-opacity="0.88"/>
<circle cx="657.89" cy="65.16" r="1.85" fill="#e9c259" fill-opacity="0.88"/>
<circle cx="660.4" cy="69.03" r="1.85" fill="#e9c259" fill-opacity="0.88"/>
<circle cx="656.1" cy="63.05" r="1.85" fill="#e9c259" fill-opacity="0.88"/>
<circle cx="652.71" cy="64.86" r="1.85" fill="#e9c259" fill-opacity="0.88"/>
<circle cx="661.73" cy="65.9" r="1.85" fill="#e9c259" fill-opacity="0.88"/>
<circle cx="663.19" cy="64.21" r="1.85" fill="#e9c259" fill-opacity="0.88"/>
<circle cx="659.35" cy="68.88" r="1.85" fill="#e9c259" fill-opacity="0.88"/>
<circle cx="653.56" cy="66.59" r="1.85" fill="#e9c259" fill-opacity="0.88"/>
<circle cx="664.95" cy="60.77" r="1.85" fill="#e9c259" fill-opacity="0.88"/>
<circle cx="654.83" cy="62.9" r="1.85" fill="#e9c259" fill-opacity="0.88"/>
<circle cx="661.91" cy="68.59" r="1.85" fill="#e9c259" fill-opacity="0.88"/>
<circle cx="656.26" cy="61.4" r="1.85" fill="#e9c259" fill-opacity="0.88"/>
<circle cx="655.61" cy="62.51" r="1.85" fill="#e9c259" fill-opacity="0.88"/>
<circle cx="658.94" cy="60.31" r="1.85" fill="#e9c259" fill-opacity="0.88"/>
<circle cx="657.22" cy="63.08" r="1.85" fill="#e9c259" fill-opacity="0.88"/>
<circle cx="653.47" cy="61.97" r="1.85" fill="#e9c259" fill-opacity="0.88"/>
<circle cx="663.53" cy="60.56" r="1.85" fill="#e9c259" fill-opacity="0.88"/>
<circle cx="659.4" cy="67.2" r="1.85" fill="#e9c259" fill-opacity="0.88"/>
<circle cx="653.98" cy="61.4" r="1.85" fill="#e9c259" fill-opacity="0.88"/>
<circle cx="656.19" cy="61.36" r="1.85" fill="#e9c259" fill-opacity="0.88"/>
<circle cx="655.65" cy="60.79" r="1.85" fill="#e9c259" fill-opacity="0.88"/>
<circle cx="654.56" cy="62.14" r="1.85" fill="#e9c259" fill-opacity="0.88"/>
<circle cx="658.06" cy="66.33" r="1.85" fill="#e9c259" fill-opacity="0.88"/>
<circle cx="656.74" cy="64.65" r="1.85" fill="#e9c259" fill-opacity="0.88"/>
<circle cx="653.71" cy="56.8" r="1.85" fill="#e9c259" fill-opacity="0.88"/>
<line x1="650.01" y1="65.4" x2="667.21" y2="65.4" stroke="#000" stroke-width="1.15"/>
<path d="M531.69 52V50.4H574V52" fill="none" stroke="#000" stroke-width="1.05"/>
<text x="552.84" y="48.8" text-anchor="middle" class="st">****</text>
<path d="M531.69 44V42.4H616.3V44" fill="none" stroke="#000" stroke-width="1.05"/>
<text x="574" y="40.8" text-anchor="middle" class="st">****</text>
<path d="M531.69 36V34.4H658.61V36" fill="none" stroke="#000" stroke-width="1.05"/>
<text x="595.15" y="32.8" text-anchor="middle" class="st">****</text>
<path d="M574 28V26.4H616.3V28" fill="none" stroke="#000" stroke-width="1.05"/>
<text x="595.15" y="24.8" text-anchor="middle" class="st">****</text>
<path d="M574 20.1V18.5H658.61V20.1" fill="none" stroke="#000" stroke-width="1.05"/>
<text x="616.3" y="16.9" text-anchor="middle" class="st">****</text>
<path d="M616.3 12.1V10.5H658.61V12.1" fill="none" stroke="#000" stroke-width="1.05"/>
<text x="637.46" y="8.9" text-anchor="middle" class="st">****</text>
<line x1="46.4" y1="187" x2="46.4" y2="351.95" stroke="#333333" stroke-width="1.1"/>
<line x1="45.9" y1="351.45" x2="230.6" y2="351.45" stroke="#333333" stroke-width="1.1"/>
<line x1="42.1" y1="348.4" x2="46.4" y2="348.4" stroke="#333333" stroke-width="1.1"/>
<text x="38" y="351.8" text-anchor="end" class="tk">0</text>
<line x1="42.1" y1="317.66" x2="46.4" y2="317.66" stroke="#333333" stroke-width="1.1"/>
<text x="38" y="321.06" text-anchor="end" class="tk">500</text>
<line x1="42.1" y1="286.92" x2="46.4" y2="286.92" stroke="#333333" stroke-width="1.1"/>
<text x="38" y="290.32" text-anchor="end" class="tk">1,000</text>
<line x1="42.1" y1="256.18" x2="46.4" y2="256.18" stroke="#333333" stroke-width="1.1"/>
<text x="38" y="259.58" text-anchor="end" class="tk">1,500</text>
<line x1="42.1" y1="225.44" x2="46.4" y2="225.44" stroke="#333333" stroke-width="1.1"/>
<text x="38" y="228.84" text-anchor="end" class="tk">2,000</text>
<line x1="42.1" y1="194.7" x2="46.4" y2="194.7" stroke="#333333" stroke-width="1.1"/>
<text x="38" y="198.1" text-anchor="end" class="tk">2,500</text>
<circle cx="77.7" cy="330.9" r="1.85" fill="#66f7d3" fill-opacity="0.88"/>
<circle cx="69.84" cy="329.92" r="1.85" fill="#66f7d3" fill-opacity="0.88"/>
<circle cx="74.88" cy="332.06" r="1.85" fill="#66f7d3" fill-opacity="0.88"/>
<circle cx="70.71" cy="330.15" r="1.85" fill="#66f7d3" fill-opacity="0.88"/>
<circle cx="71.93" cy="331.87" r="1.85" fill="#66f7d3" fill-opacity="0.88"/>
<circle cx="77.94" cy="329.92" r="1.85" fill="#66f7d3" fill-opacity="0.88"/>
<circle cx="74.58" cy="330.15" r="1.85" fill="#66f7d3" fill-opacity="0.88"/>
<circle cx="72.2" cy="331.28" r="1.85" fill="#66f7d3" fill-opacity="0.88"/>
<circle cx="68.44" cy="332.06" r="1.85" fill="#66f7d3" fill-opacity="0.88"/>
<circle cx="67.61" cy="331.24" r="1.85" fill="#66f7d3" fill-opacity="0.88"/>
<circle cx="68.03" cy="332.07" r="1.85" fill="#66f7d3" fill-opacity="0.88"/>
<circle cx="77.1" cy="331.03" r="1.85" fill="#66f7d3" fill-opacity="0.88"/>
<circle cx="67.4" cy="331.88" r="1.85" fill="#66f7d3" fill-opacity="0.88"/>
<circle cx="77.24" cy="331.87" r="1.85" fill="#66f7d3" fill-opacity="0.88"/>
<circle cx="76.1" cy="330.58" r="1.85" fill="#66f7d3" fill-opacity="0.88"/>
<circle cx="68.14" cy="330.37" r="1.85" fill="#66f7d3" fill-opacity="0.88"/>
<circle cx="70.19" cy="330.22" r="1.85" fill="#66f7d3" fill-opacity="0.88"/>
<circle cx="72.21" cy="331.75" r="1.85" fill="#66f7d3" fill-opacity="0.88"/>
<circle cx="77.91" cy="332.12" r="1.85" fill="#66f7d3" fill-opacity="0.88"/>
<circle cx="71.84" cy="330.33" r="1.85" fill="#66f7d3" fill-opacity="0.88"/>
<circle cx="73.82" cy="330" r="1.85" fill="#66f7d3" fill-opacity="0.88"/>
<circle cx="73.84" cy="331.25" r="1.85" fill="#66f7d3" fill-opacity="0.88"/>
<circle cx="74.18" cy="330.05" r="1.85" fill="#66f7d3" fill-opacity="0.88"/>
<circle cx="77.22" cy="330.11" r="1.85" fill="#66f7d3" fill-opacity="0.88"/>
<circle cx="67.42" cy="330.91" r="1.85" fill="#66f7d3" fill-opacity="0.88"/>
<circle cx="78.58" cy="332.1" r="1.85" fill="#66f7d3" fill-opacity="0.88"/>
<circle cx="78.38" cy="330.61" r="1.85" fill="#66f7d3" fill-opacity="0.88"/>
<circle cx="73.15" cy="330.51" r="1.85" fill="#66f7d3" fill-opacity="0.88"/>
<circle cx="76.55" cy="331.17" r="1.85" fill="#66f7d3" fill-opacity="0.88"/>
<circle cx="66.6" cy="330.01" r="1.85" fill="#66f7d3" fill-opacity="0.88"/>
<line x1="64.11" y1="330.5" x2="81.31" y2="330.5" stroke="#000" stroke-width="1.15"/>
<circle cx="113.02" cy="326.05" r="1.85" fill="#7cc2eb" fill-opacity="0.88"/>
<circle cx="122.03" cy="324.7" r="1.85" fill="#7cc2eb" fill-opacity="0.88"/>
<circle cx="119.08" cy="327.29" r="1.85" fill="#7cc2eb" fill-opacity="0.88"/>
<circle cx="115.03" cy="327.13" r="1.85" fill="#7cc2eb" fill-opacity="0.88"/>
<circle cx="117.58" cy="328.26" r="1.85" fill="#7cc2eb" fill-opacity="0.88"/>
<circle cx="118.7" cy="328.57" r="1.85" fill="#7cc2eb" fill-opacity="0.88"/>
<circle cx="115.77" cy="328.94" r="1.85" fill="#7cc2eb" fill-opacity="0.88"/>
<circle cx="111.95" cy="324.63" r="1.85" fill="#7cc2eb" fill-opacity="0.88"/>
<circle cx="112.18" cy="328.21" r="1.85" fill="#7cc2eb" fill-opacity="0.88"/>
<circle cx="118.17" cy="327.77" r="1.85" fill="#7cc2eb" fill-opacity="0.88"/>
<circle cx="120.32" cy="324.02" r="1.85" fill="#7cc2eb" fill-opacity="0.88"/>
<circle cx="121.41" cy="323.86" r="1.85" fill="#7cc2eb" fill-opacity="0.88"/>
<circle cx="112.82" cy="328.95" r="1.85" fill="#7cc2eb" fill-opacity="0.88"/>
<circle cx="119.64" cy="328.23" r="1.85" fill="#7cc2eb" fill-opacity="0.88"/>
<circle cx="118.81" cy="324.44" r="1.85" fill="#7cc2eb" fill-opacity="0.88"/>
<circle cx="122.03" cy="324.43" r="1.85" fill="#7cc2eb" fill-opacity="0.88"/>
<circle cx="122.91" cy="327.99" r="1.85" fill="#7cc2eb" fill-opacity="0.88"/>
<circle cx="114.17" cy="323.99" r="1.85" fill="#7cc2eb" fill-opacity="0.88"/>
<circle cx="118" cy="327.56" r="1.85" fill="#7cc2eb" fill-opacity="0.88"/>
<circle cx="121.69" cy="324.8" r="1.85" fill="#7cc2eb" fill-opacity="0.88"/>
<circle cx="113.95" cy="328.98" r="1.85" fill="#7cc2eb" fill-opacity="0.88"/>
<circle cx="118.78" cy="324.57" r="1.85" fill="#7cc2eb" fill-opacity="0.88"/>
<circle cx="118.73" cy="326.22" r="1.85" fill="#7cc2eb" fill-opacity="0.88"/>
<circle cx="115.18" cy="326.76" r="1.85" fill="#7cc2eb" fill-opacity="0.88"/>
<circle cx="111.75" cy="323.79" r="1.85" fill="#7cc2eb" fill-opacity="0.88"/>
<circle cx="119.58" cy="326.54" r="1.85" fill="#7cc2eb" fill-opacity="0.88"/>
<circle cx="119.8" cy="326.33" r="1.85" fill="#7cc2eb" fill-opacity="0.88"/>
<circle cx="121.59" cy="327.05" r="1.85" fill="#7cc2eb" fill-opacity="0.88"/>
<circle cx="114.22" cy="327.78" r="1.85" fill="#7cc2eb" fill-opacity="0.88"/>
<circle cx="110.84" cy="324.52" r="1.85" fill="#7cc2eb" fill-opacity="0.88"/>
<line x1="107.97" y1="327.3" x2="125.17" y2="327.3" stroke="#000" stroke-width="1.15"/>
<circle cx="154.16" cy="252.58" r="1.85" fill="#d05b88" fill-opacity="0.88"/>
<circle cx="156.77" cy="248.97" r="1.85" fill="#d05b88" fill-opacity="0.88"/>
<circle cx="162.76" cy="253.54" r="1.85" fill="#d05b88" fill-opacity="0.88"/>
<circle cx="154.98" cy="255.08" r="1.85" fill="#d05b88" fill-opacity="0.88"/>
<circle cx="154.22" cy="250.43" r="1.85" fill="#d05b88" fill-opacity="0.88"/>
<circle cx="160.5" cy="248.41" r="1.85" fill="#d05b88" fill-opacity="0.88"/>
<circle cx="156.45" cy="246.51" r="1.85" fill="#d05b88" fill-opacity="0.88"/>
<circle cx="161.02" cy="252.68" r="1.85" fill="#d05b88" fill-opacity="0.88"/>
<circle cx="161.61" cy="248.43" r="1.85" fill="#d05b88" fill-opacity="0.88"/>
<circle cx="153.91" cy="254.26" r="1.85" fill="#d05b88" fill-opacity="0.88"/>
<circle cx="163.04" cy="254.23" r="1.85" fill="#d05b88" fill-opacity="0.88"/>
<circle cx="155.88" cy="249.62" r="1.85" fill="#d05b88" fill-opacity="0.88"/>
<circle cx="158.27" cy="255.73" r="1.85" fill="#d05b88" fill-opacity="0.88"/>
<circle cx="155.11" cy="247.17" r="1.85" fill="#d05b88" fill-opacity="0.88"/>
<circle cx="161.8" cy="254.64" r="1.85" fill="#d05b88" fill-opacity="0.88"/>
<circle cx="163.46" cy="254.24" r="1.85" fill="#d05b88" fill-opacity="0.88"/>
<circle cx="166.67" cy="251.56" r="1.85" fill="#d05b88" fill-opacity="0.88"/>
<circle cx="161.12" cy="250" r="1.85" fill="#d05b88" fill-opacity="0.88"/>
<circle cx="161.99" cy="254.46" r="1.85" fill="#d05b88" fill-opacity="0.88"/>
<circle cx="161.45" cy="254.78" r="1.85" fill="#d05b88" fill-opacity="0.88"/>
<circle cx="154.43" cy="253.23" r="1.85" fill="#d05b88" fill-opacity="0.88"/>
<circle cx="157.65" cy="248.51" r="1.85" fill="#d05b88" fill-opacity="0.88"/>
<circle cx="156.9" cy="247.04" r="1.85" fill="#d05b88" fill-opacity="0.88"/>
<circle cx="157.5" cy="247.25" r="1.85" fill="#d05b88" fill-opacity="0.88"/>
<circle cx="158.64" cy="252.54" r="1.85" fill="#d05b88" fill-opacity="0.88"/>
<circle cx="156.59" cy="249.91" r="1.85" fill="#d05b88" fill-opacity="0.88"/>
<circle cx="166.19" cy="248.89" r="1.85" fill="#d05b88" fill-opacity="0.88"/>
<circle cx="161.87" cy="252.67" r="1.85" fill="#d05b88" fill-opacity="0.88"/>
<circle cx="163.45" cy="247.94" r="1.85" fill="#d05b88" fill-opacity="0.88"/>
<circle cx="158.84" cy="247.87" r="1.85" fill="#d05b88" fill-opacity="0.88"/>
<circle cx="162.28" cy="256.05" r="1.85" fill="#d05b88" fill-opacity="0.88"/>
<circle cx="162.87" cy="251.76" r="1.85" fill="#d05b88" fill-opacity="0.88"/>
<circle cx="163.23" cy="240.7" r="1.85" fill="#d05b88" fill-opacity="0.88"/>
<line x1="151.83" y1="251.8" x2="169.03" y2="251.8" stroke="#000" stroke-width="1.15"/>
<circle cx="206.88" cy="341.17" r="1.85" fill="#e9c259" fill-opacity="0.88"/>
<circle cx="203.79" cy="341.48" r="1.85" fill="#e9c259" fill-opacity="0.88"/>
<circle cx="208.15" cy="343.06" r="1.85" fill="#e9c259" fill-opacity="0.88"/>
<circle cx="204.26" cy="342.41" r="1.85" fill="#e9c259" fill-opacity="0.88"/>
<circle cx="203.39" cy="341.11" r="1.85" fill="#e9c259" fill-opacity="0.88"/>
<circle cx="208.94" cy="342.17" r="1.85" fill="#e9c259" fill-opacity="0.88"/>
<circle cx="207.66" cy="342.69" r="1.85" fill="#e9c259" fill-opacity="0.88"/>
<circle cx="200.01" cy="342.35" r="1.85" fill="#e9c259" fill-opacity="0.88"/>
<circle cx="208.51" cy="343.6" r="1.85" fill="#e9c259" fill-opacity="0.88"/>
<circle cx="198.95" cy="342.18" r="1.85" fill="#e9c259" fill-opacity="0.88"/>
<circle cx="204.23" cy="342.59" r="1.85" fill="#e9c259" fill-opacity="0.88"/>
<circle cx="205.57" cy="343.37" r="1.85" fill="#e9c259" fill-opacity="0.88"/>
<circle cx="205.28" cy="342.57" r="1.85" fill="#e9c259" fill-opacity="0.88"/>
<circle cx="198.33" cy="342.18" r="1.85" fill="#e9c259" fill-opacity="0.88"/>
<circle cx="210.12" cy="341.23" r="1.85" fill="#e9c259" fill-opacity="0.88"/>
<circle cx="201.6" cy="343.57" r="1.85" fill="#e9c259" fill-opacity="0.88"/>
<circle cx="204.58" cy="343.72" r="1.85" fill="#e9c259" fill-opacity="0.88"/>
<circle cx="208.98" cy="341.36" r="1.85" fill="#e9c259" fill-opacity="0.88"/>
<circle cx="210" cy="342.8" r="1.85" fill="#e9c259" fill-opacity="0.88"/>
<circle cx="198.93" cy="343.09" r="1.85" fill="#e9c259" fill-opacity="0.88"/>
<circle cx="208.07" cy="342.92" r="1.85" fill="#e9c259" fill-opacity="0.88"/>
<circle cx="202.06" cy="343.75" r="1.85" fill="#e9c259" fill-opacity="0.88"/>
<circle cx="206.94" cy="342.64" r="1.85" fill="#e9c259" fill-opacity="0.88"/>
<circle cx="208.88" cy="341.55" r="1.85" fill="#e9c259" fill-opacity="0.88"/>
<circle cx="198.35" cy="343.39" r="1.85" fill="#e9c259" fill-opacity="0.88"/>
<circle cx="202.54" cy="342.82" r="1.85" fill="#e9c259" fill-opacity="0.88"/>
<circle cx="205.66" cy="341.61" r="1.85" fill="#e9c259" fill-opacity="0.88"/>
<circle cx="204.97" cy="343.96" r="1.85" fill="#e9c259" fill-opacity="0.88"/>
<circle cx="204.22" cy="341.39" r="1.85" fill="#e9c259" fill-opacity="0.88"/>
<circle cx="210.29" cy="343.39" r="1.85" fill="#e9c259" fill-opacity="0.88"/>
<line x1="195.69" y1="342.4" x2="212.89" y2="342.4" stroke="#000" stroke-width="1.15"/>
<path d="M72.71 237.4V235.8H116.57V237.4" fill="none" stroke="#000" stroke-width="1.05"/>
<text x="94.64" y="234.2" text-anchor="middle" class="st">****</text>
<path d="M72.71 229.2V227.6H160.43V229.2" fill="none" stroke="#000" stroke-width="1.05"/>
<text x="116.57" y="226" text-anchor="middle" class="st">****</text>
<path d="M72.71 221V219.4H204.29V221" fill="none" stroke="#000" stroke-width="1.05"/>
<text x="138.5" y="217.8" text-anchor="middle" class="st">****</text>
<path d="M116.57 212.8V211.2H160.43V212.8" fill="none" stroke="#000" stroke-width="1.05"/>
<text x="138.5" y="209.6" text-anchor="middle" class="st">****</text>
<path d="M116.57 204.5V202.9H204.29V204.5" fill="none" stroke="#000" stroke-width="1.05"/>
<text x="160.43" y="201.3" text-anchor="middle" class="st">****</text>
<path d="M160.43 196.3V194.7H204.29V196.3" fill="none" stroke="#000" stroke-width="1.05"/>
<text x="182.36" y="193.1" text-anchor="middle" class="st">****</text>
<line x1="271.3" y1="187" x2="271.3" y2="351.95" stroke="#333333" stroke-width="1.1"/>
<line x1="270.8" y1="351.45" x2="454.8" y2="351.45" stroke="#333333" stroke-width="1.1"/>
<line x1="267" y1="306.1" x2="271.3" y2="306.1" stroke="#333333" stroke-width="1.1"/>
<text x="262.9" y="309.5" text-anchor="end" class="tk">1,000</text>
<line x1="267" y1="241.3" x2="271.3" y2="241.3" stroke="#333333" stroke-width="1.1"/>
<text x="262.9" y="244.7" text-anchor="end" class="tk">2,000</text>
<circle cx="294.43" cy="251.24" r="1.85" fill="#66f7d3" fill-opacity="0.88"/>
<circle cx="294.12" cy="251.8" r="1.85" fill="#66f7d3" fill-opacity="0.88"/>
<circle cx="303.72" cy="251.14" r="1.85" fill="#66f7d3" fill-opacity="0.88"/>
<circle cx="295.1" cy="249.59" r="1.85" fill="#66f7d3" fill-opacity="0.88"/>
<circle cx="292.04" cy="251.96" r="1.85" fill="#66f7d3" fill-opacity="0.88"/>
<circle cx="301.81" cy="249.86" r="1.85" fill="#66f7d3" fill-opacity="0.88"/>
<circle cx="295.13" cy="253.17" r="1.85" fill="#66f7d3" fill-opacity="0.88"/>
<circle cx="303.75" cy="250.01" r="1.85" fill="#66f7d3" fill-opacity="0.88"/>
<circle cx="298.88" cy="250.57" r="1.85" fill="#66f7d3" fill-opacity="0.88"/>
<circle cx="299.3" cy="251.68" r="1.85" fill="#66f7d3" fill-opacity="0.88"/>
<circle cx="303.62" cy="252.91" r="1.85" fill="#66f7d3" fill-opacity="0.88"/>
<circle cx="301.8" cy="252.02" r="1.85" fill="#66f7d3" fill-opacity="0.88"/>
<circle cx="299.4" cy="252.43" r="1.85" fill="#66f7d3" fill-opacity="0.88"/>
<circle cx="293.91" cy="250.97" r="1.85" fill="#66f7d3" fill-opacity="0.88"/>
<circle cx="303.19" cy="250.31" r="1.85" fill="#66f7d3" fill-opacity="0.88"/>
<circle cx="292.31" cy="252.05" r="1.85" fill="#66f7d3" fill-opacity="0.88"/>
<circle cx="294.49" cy="252.89" r="1.85" fill="#66f7d3" fill-opacity="0.88"/>
<circle cx="296.99" cy="252.02" r="1.85" fill="#66f7d3" fill-opacity="0.88"/>
<circle cx="293.68" cy="250.33" r="1.85" fill="#66f7d3" fill-opacity="0.88"/>
<circle cx="296.35" cy="251.57" r="1.85" fill="#66f7d3" fill-opacity="0.88"/>
<circle cx="300.1" cy="251.75" r="1.85" fill="#66f7d3" fill-opacity="0.88"/>
<circle cx="302.18" cy="252.53" r="1.85" fill="#66f7d3" fill-opacity="0.88"/>
<circle cx="303.67" cy="251.75" r="1.85" fill="#66f7d3" fill-opacity="0.88"/>
<circle cx="302.63" cy="251.23" r="1.85" fill="#66f7d3" fill-opacity="0.88"/>
<circle cx="301.71" cy="252.51" r="1.85" fill="#66f7d3" fill-opacity="0.88"/>
<circle cx="298.44" cy="249.75" r="1.85" fill="#66f7d3" fill-opacity="0.88"/>
<circle cx="292.14" cy="251.32" r="1.85" fill="#66f7d3" fill-opacity="0.88"/>
<circle cx="297.74" cy="250.72" r="1.85" fill="#66f7d3" fill-opacity="0.88"/>
<circle cx="291.03" cy="249.28" r="1.85" fill="#66f7d3" fill-opacity="0.88"/>
<circle cx="296.34" cy="251.6" r="1.85" fill="#66f7d3" fill-opacity="0.88"/>
<circle cx="292.01" cy="258.1" r="1.85" fill="#66f7d3" fill-opacity="0.88"/>
<circle cx="295.51" cy="256.6" r="1.85" fill="#66f7d3" fill-opacity="0.88"/>
<circle cx="300.51" cy="256.1" r="1.85" fill="#66f7d3" fill-opacity="0.88"/>
<circle cx="293.51" cy="256.3" r="1.85" fill="#66f7d3" fill-opacity="0.88"/>
<line x1="288.91" y1="251.6" x2="306.11" y2="251.6" stroke="#000" stroke-width="1.15"/>
<circle cx="341.23" cy="251.79" r="1.85" fill="#7cc2eb" fill-opacity="0.88"/>
<circle cx="345.44" cy="251.34" r="1.85" fill="#7cc2eb" fill-opacity="0.88"/>
<circle cx="341.9" cy="251.72" r="1.85" fill="#7cc2eb" fill-opacity="0.88"/>
<circle cx="339.85" cy="255.54" r="1.85" fill="#7cc2eb" fill-opacity="0.88"/>
<circle cx="344.26" cy="255.77" r="1.85" fill="#7cc2eb" fill-opacity="0.88"/>
<circle cx="342.91" cy="253.46" r="1.85" fill="#7cc2eb" fill-opacity="0.88"/>
<circle cx="339.36" cy="253.67" r="1.85" fill="#7cc2eb" fill-opacity="0.88"/>
<circle cx="339.94" cy="255.93" r="1.85" fill="#7cc2eb" fill-opacity="0.88"/>
<circle cx="345.86" cy="255.86" r="1.85" fill="#7cc2eb" fill-opacity="0.88"/>
<circle cx="338.01" cy="250.61" r="1.85" fill="#7cc2eb" fill-opacity="0.88"/>
<circle cx="345.36" cy="253.08" r="1.85" fill="#7cc2eb" fill-opacity="0.88"/>
<circle cx="342.73" cy="251.43" r="1.85" fill="#7cc2eb" fill-opacity="0.88"/>
<circle cx="344.98" cy="252.47" r="1.85" fill="#7cc2eb" fill-opacity="0.88"/>
<circle cx="344.66" cy="255.55" r="1.85" fill="#7cc2eb" fill-opacity="0.88"/>
<circle cx="344.64" cy="251.51" r="1.85" fill="#7cc2eb" fill-opacity="0.88"/>
<circle cx="345.66" cy="252.86" r="1.85" fill="#7cc2eb" fill-opacity="0.88"/>
<circle cx="346.57" cy="253.04" r="1.85" fill="#7cc2eb" fill-opacity="0.88"/>
<circle cx="345.48" cy="255.87" r="1.85" fill="#7cc2eb" fill-opacity="0.88"/>
<circle cx="345.42" cy="254.99" r="1.85" fill="#7cc2eb" fill-opacity="0.88"/>
<circle cx="336.91" cy="253.71" r="1.85" fill="#7cc2eb" fill-opacity="0.88"/>
<circle cx="340.73" cy="255.87" r="1.85" fill="#7cc2eb" fill-opacity="0.88"/>
<circle cx="340.34" cy="250.54" r="1.85" fill="#7cc2eb" fill-opacity="0.88"/>
<circle cx="337.26" cy="252.73" r="1.85" fill="#7cc2eb" fill-opacity="0.88"/>
<circle cx="336.08" cy="255.73" r="1.85" fill="#7cc2eb" fill-opacity="0.88"/>
<circle cx="341.86" cy="255.42" r="1.85" fill="#7cc2eb" fill-opacity="0.88"/>
<circle cx="339.33" cy="251.43" r="1.85" fill="#7cc2eb" fill-opacity="0.88"/>
<circle cx="336.16" cy="252.93" r="1.85" fill="#7cc2eb" fill-opacity="0.88"/>
<circle cx="343.21" cy="254.65" r="1.85" fill="#7cc2eb" fill-opacity="0.88"/>
<circle cx="345.56" cy="255.85" r="1.85" fill="#7cc2eb" fill-opacity="0.88"/>
<circle cx="347.76" cy="254.77" r="1.85" fill="#7cc2eb" fill-opacity="0.88"/>
<circle cx="335.5" cy="262.7" r="1.85" fill="#7cc2eb" fill-opacity="0.88"/>
<circle cx="338.2" cy="259.3" r="1.85" fill="#7cc2eb" fill-opacity="0.88"/>
<circle cx="341.2" cy="258.8" r="1.85" fill="#7cc2eb" fill-opacity="0.88"/>
<circle cx="336.2" cy="258.3" r="1.85" fill="#7cc2eb" fill-opacity="0.88"/>
<line x1="332.6" y1="254.3" x2="349.8" y2="254.3" stroke="#000" stroke-width="1.15"/>
<circle cx="379.01" cy="330.12" r="1.85" fill="#d05b88" fill-opacity="0.88"/>
<circle cx="384.68" cy="329.74" r="1.85" fill="#d05b88" fill-opacity="0.88"/>
<circle cx="383.67" cy="330.06" r="1.85" fill="#d05b88" fill-opacity="0.88"/>
<circle cx="380.4" cy="330.03" r="1.85" fill="#d05b88" fill-opacity="0.88"/>
<circle cx="383.75" cy="330.14" r="1.85" fill="#d05b88" fill-opacity="0.88"/>
<circle cx="382.86" cy="328.92" r="1.85" fill="#d05b88" fill-opacity="0.88"/>
<circle cx="378.75" cy="329.6" r="1.85" fill="#d05b88" fill-opacity="0.88"/>
<circle cx="378.44" cy="329.23" r="1.85" fill="#d05b88" fill-opacity="0.88"/>
<circle cx="380.54" cy="328.75" r="1.85" fill="#d05b88" fill-opacity="0.88"/>
<circle cx="381.92" cy="329" r="1.85" fill="#d05b88" fill-opacity="0.88"/>
<circle cx="383.79" cy="329.82" r="1.85" fill="#d05b88" fill-opacity="0.88"/>
<circle cx="390.16" cy="329.94" r="1.85" fill="#d05b88" fill-opacity="0.88"/>
<circle cx="390.8" cy="329.99" r="1.85" fill="#d05b88" fill-opacity="0.88"/>
<circle cx="387.15" cy="329.51" r="1.85" fill="#d05b88" fill-opacity="0.88"/>
<circle cx="385.47" cy="329.97" r="1.85" fill="#d05b88" fill-opacity="0.88"/>
<circle cx="385.17" cy="328.86" r="1.85" fill="#d05b88" fill-opacity="0.88"/>
<circle cx="380.67" cy="329.45" r="1.85" fill="#d05b88" fill-opacity="0.88"/>
<circle cx="380.73" cy="328.79" r="1.85" fill="#d05b88" fill-opacity="0.88"/>
<circle cx="389.02" cy="329.7" r="1.85" fill="#d05b88" fill-opacity="0.88"/>
<circle cx="383.93" cy="329.63" r="1.85" fill="#d05b88" fill-opacity="0.88"/>
<circle cx="381.9" cy="337.5" r="1.85" fill="#d05b88" fill-opacity="0.88"/>
<circle cx="383.9" cy="336.5" r="1.85" fill="#d05b88" fill-opacity="0.88"/>
<circle cx="385.9" cy="337" r="1.85" fill="#d05b88" fill-opacity="0.88"/>
<circle cx="386.9" cy="338" r="1.85" fill="#d05b88" fill-opacity="0.88"/>
<circle cx="387.9" cy="336.8" r="1.85" fill="#d05b88" fill-opacity="0.88"/>
<circle cx="388.9" cy="338.5" r="1.85" fill="#d05b88" fill-opacity="0.88"/>
<circle cx="380.9" cy="336" r="1.85" fill="#d05b88" fill-opacity="0.88"/>
<circle cx="384.9" cy="338" r="1.85" fill="#d05b88" fill-opacity="0.88"/>
<circle cx="379.9" cy="344" r="1.85" fill="#d05b88" fill-opacity="0.88"/>
<line x1="376.3" y1="331" x2="393.5" y2="331" stroke="#000" stroke-width="1.15"/>
<circle cx="433.74" cy="244.34" r="1.85" fill="#e9c259" fill-opacity="0.88"/>
<circle cx="431.38" cy="243.53" r="1.85" fill="#e9c259" fill-opacity="0.88"/>
<circle cx="428.86" cy="245.93" r="1.85" fill="#e9c259" fill-opacity="0.88"/>
<circle cx="431.6" cy="244.92" r="1.85" fill="#e9c259" fill-opacity="0.88"/>
<circle cx="422.47" cy="245.54" r="1.85" fill="#e9c259" fill-opacity="0.88"/>
<circle cx="435.15" cy="242.1" r="1.85" fill="#e9c259" fill-opacity="0.88"/>
<circle cx="425.43" cy="244.98" r="1.85" fill="#e9c259" fill-opacity="0.88"/>
<circle cx="424.22" cy="244.96" r="1.85" fill="#e9c259" fill-opacity="0.88"/>
<circle cx="427.81" cy="243.05" r="1.85" fill="#e9c259" fill-opacity="0.88"/>
<circle cx="423.81" cy="242.39" r="1.85" fill="#e9c259" fill-opacity="0.88"/>
<circle cx="430.53" cy="243.79" r="1.85" fill="#e9c259" fill-opacity="0.88"/>
<circle cx="430.7" cy="242.84" r="1.85" fill="#e9c259" fill-opacity="0.88"/>
<circle cx="422.71" cy="246.16" r="1.85" fill="#e9c259" fill-opacity="0.88"/>
<circle cx="423.18" cy="242.64" r="1.85" fill="#e9c259" fill-opacity="0.88"/>
<circle cx="427.43" cy="244.64" r="1.85" fill="#e9c259" fill-opacity="0.88"/>
<circle cx="425.25" cy="243.45" r="1.85" fill="#e9c259" fill-opacity="0.88"/>
<circle cx="432" cy="245.14" r="1.85" fill="#e9c259" fill-opacity="0.88"/>
<circle cx="432.87" cy="243.49" r="1.85" fill="#e9c259" fill-opacity="0.88"/>
<circle cx="426.53" cy="242.41" r="1.85" fill="#e9c259" fill-opacity="0.88"/>
<circle cx="425" cy="246.04" r="1.85" fill="#e9c259" fill-opacity="0.88"/>
<circle cx="422.41" cy="241.97" r="1.85" fill="#e9c259" fill-opacity="0.88"/>
<circle cx="432.82" cy="244.61" r="1.85" fill="#e9c259" fill-opacity="0.88"/>
<circle cx="428.3" cy="241.51" r="1.85" fill="#e9c259" fill-opacity="0.88"/>
<circle cx="426.31" cy="243.23" r="1.85" fill="#e9c259" fill-opacity="0.88"/>
<circle cx="427.06" cy="242.42" r="1.85" fill="#e9c259" fill-opacity="0.88"/>
<circle cx="434.15" cy="241.96" r="1.85" fill="#e9c259" fill-opacity="0.88"/>
<circle cx="429.05" cy="242.25" r="1.85" fill="#e9c259" fill-opacity="0.88"/>
<circle cx="430.66" cy="244.45" r="1.85" fill="#e9c259" fill-opacity="0.88"/>
<circle cx="428.89" cy="243.62" r="1.85" fill="#e9c259" fill-opacity="0.88"/>
<circle cx="424.28" cy="245.93" r="1.85" fill="#e9c259" fill-opacity="0.88"/>
<line x1="419.99" y1="243.6" x2="437.19" y2="243.6" stroke="#000" stroke-width="1.15"/>
<path d="M297.51 237.4V235.8H341.2V237.4" fill="none" stroke="#000" stroke-width="1.05"/>
<text x="319.36" y="234.2" text-anchor="middle" class="st">****</text>
<path d="M297.51 229.2V227.6H384.9V229.2" fill="none" stroke="#000" stroke-width="1.05"/>
<text x="341.2" y="226" text-anchor="middle" class="st">****</text>
<path d="M297.51 221V219.4H428.59V221" fill="none" stroke="#000" stroke-width="1.05"/>
<text x="363.05" y="217.8" text-anchor="middle" class="st">****</text>
<path d="M341.2 212.8V211.2H384.9V212.8" fill="none" stroke="#000" stroke-width="1.05"/>
<text x="363.05" y="209.6" text-anchor="middle" class="st">****</text>
<path d="M341.2 204.5V202.9H428.59V204.5" fill="none" stroke="#000" stroke-width="1.05"/>
<text x="384.9" y="201.3" text-anchor="middle" class="st">****</text>
<path d="M384.9 196.3V194.7H428.59V196.3" fill="none" stroke="#000" stroke-width="1.05"/>
<text x="406.74" y="193.1" text-anchor="middle" class="st">****</text>
<line x1="495.4" y1="187" x2="495.4" y2="351.95" stroke="#333333" stroke-width="1.1"/>
<line x1="494.9" y1="351.45" x2="679.2" y2="351.45" stroke="#333333" stroke-width="1.1"/>
<line x1="491.1" y1="351" x2="495.4" y2="351" stroke="#333333" stroke-width="1.1"/>
<text x="487" y="354.4" text-anchor="end" class="tk">2,500</text>
<line x1="491.1" y1="316.75" x2="495.4" y2="316.75" stroke="#333333" stroke-width="1.1"/>
<text x="487" y="320.15" text-anchor="end" class="tk">3,000</text>
<line x1="491.1" y1="282.5" x2="495.4" y2="282.5" stroke="#333333" stroke-width="1.1"/>
<text x="487" y="285.9" text-anchor="end" class="tk">3,500</text>
<line x1="491.1" y1="248.25" x2="495.4" y2="248.25" stroke="#333333" stroke-width="1.1"/>
<text x="487" y="251.65" text-anchor="end" class="tk">4,000</text>
<line x1="491.1" y1="214" x2="495.4" y2="214" stroke="#333333" stroke-width="1.1"/>
<text x="487" y="217.4" text-anchor="end" class="tk">4,500</text>
<circle cx="522.69" cy="245.66" r="1.85" fill="#66f7d3" fill-opacity="0.88"/>
<circle cx="525.72" cy="245.2" r="1.85" fill="#66f7d3" fill-opacity="0.88"/>
<circle cx="519.45" cy="247.66" r="1.85" fill="#66f7d3" fill-opacity="0.88"/>
<circle cx="525.52" cy="254.81" r="1.85" fill="#66f7d3" fill-opacity="0.88"/>
<circle cx="523.85" cy="254.11" r="1.85" fill="#66f7d3" fill-opacity="0.88"/>
<circle cx="520.2" cy="244.43" r="1.85" fill="#66f7d3" fill-opacity="0.88"/>
<circle cx="525.53" cy="244.93" r="1.85" fill="#66f7d3" fill-opacity="0.88"/>
<circle cx="525.49" cy="243.36" r="1.85" fill="#66f7d3" fill-opacity="0.88"/>
<circle cx="519.1" cy="244.27" r="1.85" fill="#66f7d3" fill-opacity="0.88"/>
<circle cx="523.97" cy="250.08" r="1.85" fill="#66f7d3" fill-opacity="0.88"/>
<circle cx="522.4" cy="248.3" r="1.85" fill="#66f7d3" fill-opacity="0.88"/>
<circle cx="522.98" cy="249.45" r="1.85" fill="#66f7d3" fill-opacity="0.88"/>
<circle cx="519.04" cy="243.83" r="1.85" fill="#66f7d3" fill-opacity="0.88"/>
<circle cx="522.54" cy="243.39" r="1.85" fill="#66f7d3" fill-opacity="0.88"/>
<circle cx="518.25" cy="245.51" r="1.85" fill="#66f7d3" fill-opacity="0.88"/>
<circle cx="527.48" cy="245.29" r="1.85" fill="#66f7d3" fill-opacity="0.88"/>
<circle cx="526.96" cy="243.97" r="1.85" fill="#66f7d3" fill-opacity="0.88"/>
<circle cx="517.75" cy="254.94" r="1.85" fill="#66f7d3" fill-opacity="0.88"/>
<circle cx="517.64" cy="253.55" r="1.85" fill="#66f7d3" fill-opacity="0.88"/>
<circle cx="516.67" cy="250.36" r="1.85" fill="#66f7d3" fill-opacity="0.88"/>
<circle cx="521.58" cy="245.78" r="1.85" fill="#66f7d3" fill-opacity="0.88"/>
<circle cx="525.96" cy="246.47" r="1.85" fill="#66f7d3" fill-opacity="0.88"/>
<circle cx="515.5" cy="250.37" r="1.85" fill="#66f7d3" fill-opacity="0.88"/>
<circle cx="516.26" cy="248.98" r="1.85" fill="#66f7d3" fill-opacity="0.88"/>
<circle cx="520.2" cy="244.34" r="1.85" fill="#66f7d3" fill-opacity="0.88"/>
<circle cx="522.4" cy="245.74" r="1.85" fill="#66f7d3" fill-opacity="0.88"/>
<circle cx="525.34" cy="256.51" r="1.85" fill="#66f7d3" fill-opacity="0.88"/>
<circle cx="526.14" cy="248.79" r="1.85" fill="#66f7d3" fill-opacity="0.88"/>
<circle cx="524.51" cy="244.29" r="1.85" fill="#66f7d3" fill-opacity="0.88"/>
<circle cx="527.49" cy="256.28" r="1.85" fill="#66f7d3" fill-opacity="0.88"/>
<circle cx="522.88" cy="248.27" r="1.85" fill="#66f7d3" fill-opacity="0.88"/>
<circle cx="520.86" cy="246.56" r="1.85" fill="#66f7d3" fill-opacity="0.88"/>
<circle cx="516.81" cy="256.63" r="1.85" fill="#66f7d3" fill-opacity="0.88"/>
<circle cx="518.02" cy="254.04" r="1.85" fill="#66f7d3" fill-opacity="0.88"/>
<circle cx="522.3" cy="248.94" r="1.85" fill="#66f7d3" fill-opacity="0.88"/>
<circle cx="521.41" cy="243.48" r="1.85" fill="#66f7d3" fill-opacity="0.88"/>
<circle cx="527.49" cy="243.38" r="1.85" fill="#66f7d3" fill-opacity="0.88"/>
<circle cx="522.7" cy="255.62" r="1.85" fill="#66f7d3" fill-opacity="0.88"/>
<circle cx="524.69" cy="252.46" r="1.85" fill="#66f7d3" fill-opacity="0.88"/>
<circle cx="515.96" cy="244.62" r="1.85" fill="#66f7d3" fill-opacity="0.88"/>
<circle cx="516.36" cy="260.6" r="1.85" fill="#66f7d3" fill-opacity="0.88"/>
<circle cx="521.26" cy="262.3" r="1.85" fill="#66f7d3" fill-opacity="0.88"/>
<circle cx="516.36" cy="266" r="1.85" fill="#66f7d3" fill-opacity="0.88"/>
<circle cx="519.56" cy="268" r="1.85" fill="#66f7d3" fill-opacity="0.88"/>
<circle cx="524.66" cy="259.1" r="1.85" fill="#66f7d3" fill-opacity="0.88"/>
<circle cx="526.66" cy="260.1" r="1.85" fill="#66f7d3" fill-opacity="0.88"/>
<circle cx="519.66" cy="259.6" r="1.85" fill="#66f7d3" fill-opacity="0.88"/>
<line x1="513.06" y1="250.1" x2="530.26" y2="250.1" stroke="#000" stroke-width="1.15"/>
<circle cx="566.17" cy="249.74" r="1.85" fill="#7cc2eb" fill-opacity="0.88"/>
<circle cx="563.05" cy="254.89" r="1.85" fill="#7cc2eb" fill-opacity="0.88"/>
<circle cx="567.97" cy="247.5" r="1.85" fill="#7cc2eb" fill-opacity="0.88"/>
<circle cx="563.56" cy="249.63" r="1.85" fill="#7cc2eb" fill-opacity="0.88"/>
<circle cx="563.17" cy="248.54" r="1.85" fill="#7cc2eb" fill-opacity="0.88"/>
<circle cx="567.16" cy="245.98" r="1.85" fill="#7cc2eb" fill-opacity="0.88"/>
<circle cx="567.91" cy="256.46" r="1.85" fill="#7cc2eb" fill-opacity="0.88"/>
<circle cx="563.27" cy="251.88" r="1.85" fill="#7cc2eb" fill-opacity="0.88"/>
<circle cx="560.72" cy="248.9" r="1.85" fill="#7cc2eb" fill-opacity="0.88"/>
<circle cx="562.73" cy="253.45" r="1.85" fill="#7cc2eb" fill-opacity="0.88"/>
<circle cx="571.76" cy="247.18" r="1.85" fill="#7cc2eb" fill-opacity="0.88"/>
<circle cx="571.74" cy="247.73" r="1.85" fill="#7cc2eb" fill-opacity="0.88"/>
<circle cx="568.87" cy="251.61" r="1.85" fill="#7cc2eb" fill-opacity="0.88"/>
<circle cx="561.18" cy="251.77" r="1.85" fill="#7cc2eb" fill-opacity="0.88"/>
<circle cx="562.23" cy="253.18" r="1.85" fill="#7cc2eb" fill-opacity="0.88"/>
<circle cx="560.54" cy="248.56" r="1.85" fill="#7cc2eb" fill-opacity="0.88"/>
<circle cx="563.67" cy="245.24" r="1.85" fill="#7cc2eb" fill-opacity="0.88"/>
<circle cx="563.9" cy="245.07" r="1.85" fill="#7cc2eb" fill-opacity="0.88"/>
<circle cx="572" cy="255.63" r="1.85" fill="#7cc2eb" fill-opacity="0.88"/>
<circle cx="560.24" cy="248.76" r="1.85" fill="#7cc2eb" fill-opacity="0.88"/>
<circle cx="559.66" cy="247.8" r="1.85" fill="#7cc2eb" fill-opacity="0.88"/>
<circle cx="567.02" cy="246.42" r="1.85" fill="#7cc2eb" fill-opacity="0.88"/>
<circle cx="559.23" cy="251.59" r="1.85" fill="#7cc2eb" fill-opacity="0.88"/>
<circle cx="564.4" cy="249.65" r="1.85" fill="#7cc2eb" fill-opacity="0.88"/>
<circle cx="560.6" cy="248.44" r="1.85" fill="#7cc2eb" fill-opacity="0.88"/>
<circle cx="560.17" cy="248.38" r="1.85" fill="#7cc2eb" fill-opacity="0.88"/>
<circle cx="567.39" cy="252.72" r="1.85" fill="#7cc2eb" fill-opacity="0.88"/>
<circle cx="564.2" cy="251.78" r="1.85" fill="#7cc2eb" fill-opacity="0.88"/>
<circle cx="563.69" cy="257.68" r="1.85" fill="#7cc2eb" fill-opacity="0.88"/>
<circle cx="563.75" cy="246.29" r="1.85" fill="#7cc2eb" fill-opacity="0.88"/>
<circle cx="560.9" cy="256.82" r="1.85" fill="#7cc2eb" fill-opacity="0.88"/>
<circle cx="571.2" cy="254.06" r="1.85" fill="#7cc2eb" fill-opacity="0.88"/>
<circle cx="564.97" cy="255.67" r="1.85" fill="#7cc2eb" fill-opacity="0.88"/>
<circle cx="570.32" cy="249.13" r="1.85" fill="#7cc2eb" fill-opacity="0.88"/>
<circle cx="569.47" cy="253.13" r="1.85" fill="#7cc2eb" fill-opacity="0.88"/>
<circle cx="566.85" cy="246.07" r="1.85" fill="#7cc2eb" fill-opacity="0.88"/>
<circle cx="560.42" cy="261.4" r="1.85" fill="#7cc2eb" fill-opacity="0.88"/>
<circle cx="565.42" cy="262.4" r="1.85" fill="#7cc2eb" fill-opacity="0.88"/>
<circle cx="568.42" cy="261.9" r="1.85" fill="#7cc2eb" fill-opacity="0.88"/>
<circle cx="562.92" cy="266.5" r="1.85" fill="#7cc2eb" fill-opacity="0.88"/>
<circle cx="561.42" cy="262.9" r="1.85" fill="#7cc2eb" fill-opacity="0.88"/>
<line x1="556.82" y1="251.4" x2="574.02" y2="251.4" stroke="#000" stroke-width="1.15"/>
<circle cx="604.86" cy="328.16" r="1.85" fill="#d05b88" fill-opacity="0.88"/>
<circle cx="605.72" cy="328.33" r="1.85" fill="#d05b88" fill-opacity="0.88"/>
<circle cx="614.43" cy="326.31" r="1.85" fill="#d05b88" fill-opacity="0.88"/>
<circle cx="609.29" cy="325.87" r="1.85" fill="#d05b88" fill-opacity="0.88"/>
<circle cx="615.27" cy="325.1" r="1.85" fill="#d05b88" fill-opacity="0.88"/>
<circle cx="604.85" cy="328.39" r="1.85" fill="#d05b88" fill-opacity="0.88"/>
<circle cx="608.82" cy="324.94" r="1.85" fill="#d05b88" fill-opacity="0.88"/>
<circle cx="612.81" cy="326.52" r="1.85" fill="#d05b88" fill-opacity="0.88"/>
<circle cx="610.37" cy="325.82" r="1.85" fill="#d05b88" fill-opacity="0.88"/>
<circle cx="605.39" cy="325.09" r="1.85" fill="#d05b88" fill-opacity="0.88"/>
<circle cx="609.79" cy="324.77" r="1.85" fill="#d05b88" fill-opacity="0.88"/>
<circle cx="610.73" cy="326.7" r="1.85" fill="#d05b88" fill-opacity="0.88"/>
<circle cx="606.63" cy="328.19" r="1.85" fill="#d05b88" fill-opacity="0.88"/>
<circle cx="608.69" cy="325.82" r="1.85" fill="#d05b88" fill-opacity="0.88"/>
<circle cx="606.64" cy="328.23" r="1.85" fill="#d05b88" fill-opacity="0.88"/>
<circle cx="608.21" cy="325.61" r="1.85" fill="#d05b88" fill-opacity="0.88"/>
<circle cx="606.27" cy="327.21" r="1.85" fill="#d05b88" fill-opacity="0.88"/>
<circle cx="612.24" cy="325.14" r="1.85" fill="#d05b88" fill-opacity="0.88"/>
<circle cx="603.18" cy="333.3" r="1.85" fill="#d05b88" fill-opacity="0.88"/>
<circle cx="606.18" cy="334.3" r="1.85" fill="#d05b88" fill-opacity="0.88"/>
<circle cx="609.18" cy="332.3" r="1.85" fill="#d05b88" fill-opacity="0.88"/>
<circle cx="612.18" cy="333.3" r="1.85" fill="#d05b88" fill-opacity="0.88"/>
<circle cx="615.18" cy="333.3" r="1.85" fill="#d05b88" fill-opacity="0.88"/>
<circle cx="604.18" cy="336.3" r="1.85" fill="#d05b88" fill-opacity="0.88"/>
<circle cx="608.18" cy="337.3" r="1.85" fill="#d05b88" fill-opacity="0.88"/>
<circle cx="611.18" cy="335.3" r="1.85" fill="#d05b88" fill-opacity="0.88"/>
<circle cx="614.18" cy="337.3" r="1.85" fill="#d05b88" fill-opacity="0.88"/>
<circle cx="603.18" cy="339.3" r="1.85" fill="#d05b88" fill-opacity="0.88"/>
<circle cx="606.18" cy="339.8" r="1.85" fill="#d05b88" fill-opacity="0.88"/>
<circle cx="610.18" cy="339.3" r="1.85" fill="#d05b88" fill-opacity="0.88"/>
<circle cx="613.18" cy="338.8" r="1.85" fill="#d05b88" fill-opacity="0.88"/>
<circle cx="615.18" cy="336.3" r="1.85" fill="#d05b88" fill-opacity="0.88"/>
<circle cx="605.18" cy="341.3" r="1.85" fill="#d05b88" fill-opacity="0.88"/>
<circle cx="610.78" cy="343.8" r="1.85" fill="#d05b88" fill-opacity="0.88"/>
<line x1="600.58" y1="329.3" x2="617.78" y2="329.3" stroke="#000" stroke-width="1.15"/>
<circle cx="650.22" cy="245.72" r="1.85" fill="#e9c259" fill-opacity="0.88"/>
<circle cx="652.74" cy="249.76" r="1.85" fill="#e9c259" fill-opacity="0.88"/>
<circle cx="656.24" cy="242.61" r="1.85" fill="#e9c259" fill-opacity="0.88"/>
<circle cx="649.02" cy="242.51" r="1.85" fill="#e9c259" fill-opacity="0.88"/>
<circle cx="654.64" cy="242.49" r="1.85" fill="#e9c259" fill-opacity="0.88"/>
<circle cx="654.41" cy="249.18" r="1.85" fill="#e9c259" fill-opacity="0.88"/>
<circle cx="657.5" cy="243.79" r="1.85" fill="#e9c259" fill-opacity="0.88"/>
<circle cx="650.67" cy="249.43" r="1.85" fill="#e9c259" fill-opacity="0.88"/>
<circle cx="655.24" cy="244.23" r="1.85" fill="#e9c259" fill-opacity="0.88"/>
<circle cx="658.39" cy="250.31" r="1.85" fill="#e9c259" fill-opacity="0.88"/>
<circle cx="655.79" cy="249.48" r="1.85" fill="#e9c259" fill-opacity="0.88"/>
<circle cx="654.43" cy="243.83" r="1.85" fill="#e9c259" fill-opacity="0.88"/>
<circle cx="654.77" cy="245.57" r="1.85" fill="#e9c259" fill-opacity="0.88"/>
<circle cx="649.06" cy="246.09" r="1.85" fill="#e9c259" fill-opacity="0.88"/>
<circle cx="646.82" cy="249.66" r="1.85" fill="#e9c259" fill-opacity="0.88"/>
<circle cx="650.69" cy="244.82" r="1.85" fill="#e9c259" fill-opacity="0.88"/>
<circle cx="647.89" cy="250.26" r="1.85" fill="#e9c259" fill-opacity="0.88"/>
<circle cx="658.79" cy="246.88" r="1.85" fill="#e9c259" fill-opacity="0.88"/>
<circle cx="658.59" cy="247.17" r="1.85" fill="#e9c259" fill-opacity="0.88"/>
<circle cx="652.12" cy="245.28" r="1.85" fill="#e9c259" fill-opacity="0.88"/>
<circle cx="651.21" cy="245.07" r="1.85" fill="#e9c259" fill-opacity="0.88"/>
<circle cx="647.33" cy="244.88" r="1.85" fill="#e9c259" fill-opacity="0.88"/>
<circle cx="656.03" cy="250.42" r="1.85" fill="#e9c259" fill-opacity="0.88"/>
<circle cx="653.37" cy="247.75" r="1.85" fill="#e9c259" fill-opacity="0.88"/>
<circle cx="649.32" cy="243.59" r="1.85" fill="#e9c259" fill-opacity="0.88"/>
<circle cx="657.22" cy="250.27" r="1.85" fill="#e9c259" fill-opacity="0.88"/>
<circle cx="656.16" cy="245.81" r="1.85" fill="#e9c259" fill-opacity="0.88"/>
<circle cx="646.9" cy="250.19" r="1.85" fill="#e9c259" fill-opacity="0.88"/>
<circle cx="651.65" cy="245.03" r="1.85" fill="#e9c259" fill-opacity="0.88"/>
<circle cx="653.46" cy="244.82" r="1.85" fill="#e9c259" fill-opacity="0.88"/>
<circle cx="648.94" cy="253.7" r="1.85" fill="#e9c259" fill-opacity="0.88"/>
<circle cx="655.94" cy="254" r="1.85" fill="#e9c259" fill-opacity="0.88"/>
<line x1="644.34" y1="246.2" x2="661.54" y2="246.2" stroke="#000" stroke-width="1.15"/>
<path d="M521.66 237.4V235.8H565.42V237.4" fill="none" stroke="#000" stroke-width="1.05"/>
<text x="543.54" y="234.9" text-anchor="middle" class="ns">ns</text>
<path d="M521.66 229.2V227.6H609.18V229.2" fill="none" stroke="#000" stroke-width="1.05"/>
<text x="565.42" y="226" text-anchor="middle" class="st">****</text>
<path d="M521.66 221V219.4H652.94V221" fill="none" stroke="#000" stroke-width="1.05"/>
<text x="587.3" y="217.8" text-anchor="middle" class="st">***</text>
<path d="M565.42 212.8V211.2H609.18V212.8" fill="none" stroke="#000" stroke-width="1.05"/>
<text x="587.3" y="209.6" text-anchor="middle" class="st">****</text>
<path d="M565.42 204.5V202.9H652.94V204.5" fill="none" stroke="#000" stroke-width="1.05"/>
<text x="609.18" y="201.3" text-anchor="middle" class="st">****</text>
<path d="M609.18 196.3V194.7H652.94V196.3" fill="none" stroke="#000" stroke-width="1.05"/>
<text x="631.06" y="193.1" text-anchor="middle" class="st">****</text>
<line x1="46.4" y1="365" x2="46.4" y2="529.3" stroke="#333333" stroke-width="1.1"/>
<line x1="45.9" y1="528.8" x2="230.6" y2="528.8" stroke="#333333" stroke-width="1.1"/>
<line x1="42.1" y1="525.6" x2="46.4" y2="525.6" stroke="#333333" stroke-width="1.1"/>
<text x="38" y="529" text-anchor="end" class="tk">0</text>
<line x1="42.1" y1="474" x2="46.4" y2="474" stroke="#333333" stroke-width="1.1"/>
<text x="38" y="477.4" text-anchor="end" class="tk">1,000</text>
<line x1="42.1" y1="422.4" x2="46.4" y2="422.4" stroke="#333333" stroke-width="1.1"/>
<text x="38" y="425.8" text-anchor="end" class="tk">2,000</text>
<line x1="42.1" y1="370.8" x2="46.4" y2="370.8" stroke="#333333" stroke-width="1.1"/>
<text x="38" y="374.2" text-anchor="end" class="tk">3,000</text>
<circle cx="70" cy="515.23" r="1.85" fill="#66f7d3" fill-opacity="0.88"/>
<circle cx="67.91" cy="514.65" r="1.85" fill="#66f7d3" fill-opacity="0.88"/>
<circle cx="68.16" cy="515.34" r="1.85" fill="#66f7d3" fill-opacity="0.88"/>
<circle cx="74.01" cy="514.93" r="1.85" fill="#66f7d3" fill-opacity="0.88"/>
<circle cx="71.53" cy="514.98" r="1.85" fill="#66f7d3" fill-opacity="0.88"/>
<circle cx="71.39" cy="514.54" r="1.85" fill="#66f7d3" fill-opacity="0.88"/>
<circle cx="70.34" cy="514.14" r="1.85" fill="#66f7d3" fill-opacity="0.88"/>
<circle cx="76.42" cy="514.41" r="1.85" fill="#66f7d3" fill-opacity="0.88"/>
<circle cx="67.39" cy="514.63" r="1.85" fill="#66f7d3" fill-opacity="0.88"/>
<circle cx="70.68" cy="514.09" r="1.85" fill="#66f7d3" fill-opacity="0.88"/>
<circle cx="66.45" cy="515.33" r="1.85" fill="#66f7d3" fill-opacity="0.88"/>
<circle cx="76.27" cy="514.64" r="1.85" fill="#66f7d3" fill-opacity="0.88"/>
<circle cx="76.72" cy="514.21" r="1.85" fill="#66f7d3" fill-opacity="0.88"/>
<circle cx="77.02" cy="515.2" r="1.85" fill="#66f7d3" fill-opacity="0.88"/>
<circle cx="78.4" cy="514.22" r="1.85" fill="#66f7d3" fill-opacity="0.88"/>
<circle cx="76.67" cy="514.35" r="1.85" fill="#66f7d3" fill-opacity="0.88"/>
<circle cx="73.02" cy="515.09" r="1.85" fill="#66f7d3" fill-opacity="0.88"/>
<circle cx="76.31" cy="515.03" r="1.85" fill="#66f7d3" fill-opacity="0.88"/>
<circle cx="70.2" cy="515.09" r="1.85" fill="#66f7d3" fill-opacity="0.88"/>
<circle cx="74.32" cy="515.3" r="1.85" fill="#66f7d3" fill-opacity="0.88"/>
<circle cx="67.72" cy="514.51" r="1.85" fill="#66f7d3" fill-opacity="0.88"/>
<circle cx="79.12" cy="515.14" r="1.85" fill="#66f7d3" fill-opacity="0.88"/>
<circle cx="74.81" cy="515.18" r="1.85" fill="#66f7d3" fill-opacity="0.88"/>
<circle cx="71.32" cy="515" r="1.85" fill="#66f7d3" fill-opacity="0.88"/>
<circle cx="78.36" cy="514.25" r="1.85" fill="#66f7d3" fill-opacity="0.88"/>
<circle cx="73.32" cy="515.05" r="1.85" fill="#66f7d3" fill-opacity="0.88"/>
<circle cx="68.12" cy="515.19" r="1.85" fill="#66f7d3" fill-opacity="0.88"/>
<circle cx="69.71" cy="514.18" r="1.85" fill="#66f7d3" fill-opacity="0.88"/>
<circle cx="70.83" cy="515.22" r="1.85" fill="#66f7d3" fill-opacity="0.88"/>
<circle cx="68.52" cy="514.17" r="1.85" fill="#66f7d3" fill-opacity="0.88"/>
<line x1="64.11" y1="514.2" x2="81.31" y2="514.2" stroke="#000" stroke-width="1.15"/>
<circle cx="118.16" cy="510.27" r="1.85" fill="#7cc2eb" fill-opacity="0.88"/>
<circle cx="122.95" cy="509.86" r="1.85" fill="#7cc2eb" fill-opacity="0.88"/>
<circle cx="123.16" cy="510.92" r="1.85" fill="#7cc2eb" fill-opacity="0.88"/>
<circle cx="112.6" cy="510.19" r="1.85" fill="#7cc2eb" fill-opacity="0.88"/>
<circle cx="112.53" cy="509.92" r="1.85" fill="#7cc2eb" fill-opacity="0.88"/>
<circle cx="119.1" cy="509.88" r="1.85" fill="#7cc2eb" fill-opacity="0.88"/>
<circle cx="120.74" cy="510.33" r="1.85" fill="#7cc2eb" fill-opacity="0.88"/>
<circle cx="114.58" cy="510.84" r="1.85" fill="#7cc2eb" fill-opacity="0.88"/>
<circle cx="114.56" cy="510.07" r="1.85" fill="#7cc2eb" fill-opacity="0.88"/>
<circle cx="118.53" cy="509.89" r="1.85" fill="#7cc2eb" fill-opacity="0.88"/>
<circle cx="111.93" cy="510.1" r="1.85" fill="#7cc2eb" fill-opacity="0.88"/>
<circle cx="115.74" cy="511" r="1.85" fill="#7cc2eb" fill-opacity="0.88"/>
<circle cx="122.91" cy="511.08" r="1.85" fill="#7cc2eb" fill-opacity="0.88"/>
<circle cx="113.27" cy="510.71" r="1.85" fill="#7cc2eb" fill-opacity="0.88"/>
<circle cx="113.23" cy="510.04" r="1.85" fill="#7cc2eb" fill-opacity="0.88"/>
<circle cx="116.73" cy="510.81" r="1.85" fill="#7cc2eb" fill-opacity="0.88"/>
<circle cx="110.2" cy="510.24" r="1.85" fill="#7cc2eb" fill-opacity="0.88"/>
<circle cx="115.16" cy="510.31" r="1.85" fill="#7cc2eb" fill-opacity="0.88"/>
<circle cx="113.26" cy="509.94" r="1.85" fill="#7cc2eb" fill-opacity="0.88"/>
<circle cx="115.46" cy="510.23" r="1.85" fill="#7cc2eb" fill-opacity="0.88"/>
<circle cx="117.44" cy="510.49" r="1.85" fill="#7cc2eb" fill-opacity="0.88"/>
<circle cx="113.86" cy="510.95" r="1.85" fill="#7cc2eb" fill-opacity="0.88"/>
<circle cx="113.97" cy="509.97" r="1.85" fill="#7cc2eb" fill-opacity="0.88"/>
<circle cx="117.57" cy="510.13" r="1.85" fill="#7cc2eb" fill-opacity="0.88"/>
<circle cx="114.21" cy="510.47" r="1.85" fill="#7cc2eb" fill-opacity="0.88"/>
<circle cx="119.89" cy="509.97" r="1.85" fill="#7cc2eb" fill-opacity="0.88"/>
<circle cx="118.2" cy="510.66" r="1.85" fill="#7cc2eb" fill-opacity="0.88"/>
<circle cx="121.26" cy="510.76" r="1.85" fill="#7cc2eb" fill-opacity="0.88"/>
<circle cx="112.46" cy="509.9" r="1.85" fill="#7cc2eb" fill-opacity="0.88"/>
<circle cx="119.22" cy="510.46" r="1.85" fill="#7cc2eb" fill-opacity="0.88"/>
<line x1="107.97" y1="510.5" x2="125.17" y2="510.5" stroke="#000" stroke-width="1.15"/>
<circle cx="161.67" cy="418.42" r="1.85" fill="#d05b88" fill-opacity="0.88"/>
<circle cx="158.37" cy="423" r="1.85" fill="#d05b88" fill-opacity="0.88"/>
<circle cx="158.77" cy="420.77" r="1.85" fill="#d05b88" fill-opacity="0.88"/>
<circle cx="162.88" cy="421.75" r="1.85" fill="#d05b88" fill-opacity="0.88"/>
<circle cx="166.71" cy="421.04" r="1.85" fill="#d05b88" fill-opacity="0.88"/>
<circle cx="158.35" cy="421.56" r="1.85" fill="#d05b88" fill-opacity="0.88"/>
<circle cx="162.19" cy="419.95" r="1.85" fill="#d05b88" fill-opacity="0.88"/>
<circle cx="156.76" cy="421.51" r="1.85" fill="#d05b88" fill-opacity="0.88"/>
<circle cx="159.73" cy="422.1" r="1.85" fill="#d05b88" fill-opacity="0.88"/>
<circle cx="155.03" cy="421.91" r="1.85" fill="#d05b88" fill-opacity="0.88"/>
<circle cx="154.06" cy="419.64" r="1.85" fill="#d05b88" fill-opacity="0.88"/>
<circle cx="157.18" cy="420.13" r="1.85" fill="#d05b88" fill-opacity="0.88"/>
<circle cx="156.74" cy="419.78" r="1.85" fill="#d05b88" fill-opacity="0.88"/>
<circle cx="162.21" cy="422.31" r="1.85" fill="#d05b88" fill-opacity="0.88"/>
<circle cx="160.39" cy="419.8" r="1.85" fill="#d05b88" fill-opacity="0.88"/>
<circle cx="166.27" cy="418.97" r="1.85" fill="#d05b88" fill-opacity="0.88"/>
<circle cx="161.37" cy="422.58" r="1.85" fill="#d05b88" fill-opacity="0.88"/>
<circle cx="166.41" cy="418.82" r="1.85" fill="#d05b88" fill-opacity="0.88"/>
<circle cx="154.55" cy="419.13" r="1.85" fill="#d05b88" fill-opacity="0.88"/>
<circle cx="158.81" cy="420.14" r="1.85" fill="#d05b88" fill-opacity="0.88"/>
<circle cx="155.76" cy="422.3" r="1.85" fill="#d05b88" fill-opacity="0.88"/>
<circle cx="159.66" cy="418.35" r="1.85" fill="#d05b88" fill-opacity="0.88"/>
<circle cx="162.58" cy="418.26" r="1.85" fill="#d05b88" fill-opacity="0.88"/>
<circle cx="165.37" cy="420.49" r="1.85" fill="#d05b88" fill-opacity="0.88"/>
<circle cx="156.92" cy="422.73" r="1.85" fill="#d05b88" fill-opacity="0.88"/>
<circle cx="160.42" cy="421.98" r="1.85" fill="#d05b88" fill-opacity="0.88"/>
<circle cx="154.88" cy="422.8" r="1.85" fill="#d05b88" fill-opacity="0.88"/>
<circle cx="166.77" cy="420.33" r="1.85" fill="#d05b88" fill-opacity="0.88"/>
<circle cx="157.85" cy="418.33" r="1.85" fill="#d05b88" fill-opacity="0.88"/>
<circle cx="158.6" cy="419.6" r="1.85" fill="#d05b88" fill-opacity="0.88"/>
<line x1="151.83" y1="419.9" x2="169.03" y2="419.9" stroke="#000" stroke-width="1.15"/>
<circle cx="204.31" cy="520.59" r="1.85" fill="#e9c259" fill-opacity="0.88"/>
<circle cx="203.77" cy="520.93" r="1.85" fill="#e9c259" fill-opacity="0.88"/>
<circle cx="204.12" cy="520.95" r="1.85" fill="#e9c259" fill-opacity="0.88"/>
<circle cx="200.36" cy="520.87" r="1.85" fill="#e9c259" fill-opacity="0.88"/>
<circle cx="201.05" cy="520.38" r="1.85" fill="#e9c259" fill-opacity="0.88"/>
<circle cx="198.02" cy="521.19" r="1.85" fill="#e9c259" fill-opacity="0.88"/>
<circle cx="203.26" cy="520.67" r="1.85" fill="#e9c259" fill-opacity="0.88"/>
<circle cx="203.41" cy="520.91" r="1.85" fill="#e9c259" fill-opacity="0.88"/>
<circle cx="210.06" cy="521.28" r="1.85" fill="#e9c259" fill-opacity="0.88"/>
<circle cx="200.36" cy="520.93" r="1.85" fill="#e9c259" fill-opacity="0.88"/>
<circle cx="208.98" cy="521.3" r="1.85" fill="#e9c259" fill-opacity="0.88"/>
<circle cx="208.22" cy="520.81" r="1.85" fill="#e9c259" fill-opacity="0.88"/>
<circle cx="210.24" cy="521.31" r="1.85" fill="#e9c259" fill-opacity="0.88"/>
<circle cx="200.55" cy="520.52" r="1.85" fill="#e9c259" fill-opacity="0.88"/>
<circle cx="201.26" cy="521.21" r="1.85" fill="#e9c259" fill-opacity="0.88"/>
<circle cx="198.33" cy="520.58" r="1.85" fill="#e9c259" fill-opacity="0.88"/>
<circle cx="200.81" cy="521.16" r="1.85" fill="#e9c259" fill-opacity="0.88"/>
<circle cx="205.78" cy="520.45" r="1.85" fill="#e9c259" fill-opacity="0.88"/>
<circle cx="208.04" cy="520.35" r="1.85" fill="#e9c259" fill-opacity="0.88"/>
<circle cx="210.52" cy="520.35" r="1.85" fill="#e9c259" fill-opacity="0.88"/>
<circle cx="199.57" cy="520.41" r="1.85" fill="#e9c259" fill-opacity="0.88"/>
<circle cx="207.79" cy="520.8" r="1.85" fill="#e9c259" fill-opacity="0.88"/>
<circle cx="207.04" cy="520.83" r="1.85" fill="#e9c259" fill-opacity="0.88"/>
<circle cx="209.01" cy="520.54" r="1.85" fill="#e9c259" fill-opacity="0.88"/>
<circle cx="203.1" cy="520.49" r="1.85" fill="#e9c259" fill-opacity="0.88"/>
<circle cx="202.87" cy="521.21" r="1.85" fill="#e9c259" fill-opacity="0.88"/>
<circle cx="207.18" cy="520.32" r="1.85" fill="#e9c259" fill-opacity="0.88"/>
<circle cx="203.1" cy="520.36" r="1.85" fill="#e9c259" fill-opacity="0.88"/>
<circle cx="204.14" cy="520.66" r="1.85" fill="#e9c259" fill-opacity="0.88"/>
<circle cx="209.88" cy="520.41" r="1.85" fill="#e9c259" fill-opacity="0.88"/>
<line x1="195.69" y1="520.6" x2="212.89" y2="520.6" stroke="#000" stroke-width="1.15"/>
<path d="M72.71 414.8V413.2H116.57V414.8" fill="none" stroke="#000" stroke-width="1.05"/>
<text x="94.64" y="411.6" text-anchor="middle" class="st">****</text>
<path d="M72.71 406.6V405H160.43V406.6" fill="none" stroke="#000" stroke-width="1.05"/>
<text x="116.57" y="403.4" text-anchor="middle" class="st">****</text>
<path d="M72.71 398.4V396.8H204.29V398.4" fill="none" stroke="#000" stroke-width="1.05"/>
<text x="138.5" y="395.2" text-anchor="middle" class="st">****</text>
<path d="M116.57 390.1V388.5H160.43V390.1" fill="none" stroke="#000" stroke-width="1.05"/>
<text x="138.5" y="386.9" text-anchor="middle" class="st">****</text>
<path d="M116.57 381.9V380.3H204.29V381.9" fill="none" stroke="#000" stroke-width="1.05"/>
<text x="160.43" y="378.7" text-anchor="middle" class="st">****</text>
<path d="M160.43 373.7V372.1H204.29V373.7" fill="none" stroke="#000" stroke-width="1.05"/>
<text x="182.36" y="370.5" text-anchor="middle" class="st">****</text>
<line x1="271.3" y1="365" x2="271.3" y2="529.4" stroke="#333333" stroke-width="1.1"/>
<line x1="270.8" y1="528.9" x2="454.8" y2="528.9" stroke="#333333" stroke-width="1.1"/>
<line x1="267" y1="486.4" x2="271.3" y2="486.4" stroke="#333333" stroke-width="1.1"/>
<text x="262.9" y="489.8" text-anchor="end" class="tk">1,000</text>
<line x1="267" y1="432.45" x2="271.3" y2="432.45" stroke="#333333" stroke-width="1.1"/>
<text x="262.9" y="435.85" text-anchor="end" class="tk">2,000</text>
<line x1="267" y1="378.5" x2="271.3" y2="378.5" stroke="#333333" stroke-width="1.1"/>
<text x="262.9" y="381.9" text-anchor="end" class="tk">3,000</text>
<circle cx="298.07" cy="423.46" r="1.85" fill="#66f7d3" fill-opacity="0.88"/>
<circle cx="303.57" cy="426.21" r="1.85" fill="#66f7d3" fill-opacity="0.88"/>
<circle cx="297.95" cy="424.08" r="1.85" fill="#66f7d3" fill-opacity="0.88"/>
<circle cx="298.18" cy="424.11" r="1.85" fill="#66f7d3" fill-opacity="0.88"/>
<circle cx="304.02" cy="427.05" r="1.85" fill="#66f7d3" fill-opacity="0.88"/>
<circle cx="303.3" cy="427.6" r="1.85" fill="#66f7d3" fill-opacity="0.88"/>
<circle cx="294.1" cy="422.09" r="1.85" fill="#66f7d3" fill-opacity="0.88"/>
<circle cx="298.34" cy="427.71" r="1.85" fill="#66f7d3" fill-opacity="0.88"/>
<circle cx="299.12" cy="422.66" r="1.85" fill="#66f7d3" fill-opacity="0.88"/>
<circle cx="293.97" cy="427.64" r="1.85" fill="#66f7d3" fill-opacity="0.88"/>
<circle cx="293.2" cy="423.98" r="1.85" fill="#66f7d3" fill-opacity="0.88"/>
<circle cx="293.61" cy="427.91" r="1.85" fill="#66f7d3" fill-opacity="0.88"/>
<circle cx="291.96" cy="423.38" r="1.85" fill="#66f7d3" fill-opacity="0.88"/>
<circle cx="291.12" cy="422.39" r="1.85" fill="#66f7d3" fill-opacity="0.88"/>
<circle cx="297.88" cy="421.78" r="1.85" fill="#66f7d3" fill-opacity="0.88"/>
<circle cx="295.77" cy="423.63" r="1.85" fill="#66f7d3" fill-opacity="0.88"/>
<circle cx="295.07" cy="425.4" r="1.85" fill="#66f7d3" fill-opacity="0.88"/>
<circle cx="294.13" cy="426.42" r="1.85" fill="#66f7d3" fill-opacity="0.88"/>
<circle cx="295.79" cy="424.88" r="1.85" fill="#66f7d3" fill-opacity="0.88"/>
<circle cx="296.87" cy="426.42" r="1.85" fill="#66f7d3" fill-opacity="0.88"/>
<circle cx="303.19" cy="423.5" r="1.85" fill="#66f7d3" fill-opacity="0.88"/>
<circle cx="295.49" cy="426.67" r="1.85" fill="#66f7d3" fill-opacity="0.88"/>
<circle cx="297.56" cy="426" r="1.85" fill="#66f7d3" fill-opacity="0.88"/>
<circle cx="293.71" cy="422.01" r="1.85" fill="#66f7d3" fill-opacity="0.88"/>
<circle cx="291.07" cy="425.88" r="1.85" fill="#66f7d3" fill-opacity="0.88"/>
<circle cx="294.44" cy="421.99" r="1.85" fill="#66f7d3" fill-opacity="0.88"/>
<circle cx="290.95" cy="424.78" r="1.85" fill="#66f7d3" fill-opacity="0.88"/>
<circle cx="303.97" cy="427.92" r="1.85" fill="#66f7d3" fill-opacity="0.88"/>
<circle cx="302.2" cy="426.65" r="1.85" fill="#66f7d3" fill-opacity="0.88"/>
<circle cx="302.09" cy="427.49" r="1.85" fill="#66f7d3" fill-opacity="0.88"/>
<circle cx="297.91" cy="431.3" r="1.85" fill="#66f7d3" fill-opacity="0.88"/>
<circle cx="294.51" cy="430.1" r="1.85" fill="#66f7d3" fill-opacity="0.88"/>
<circle cx="300.51" cy="430.2" r="1.85" fill="#66f7d3" fill-opacity="0.88"/>
<line x1="288.91" y1="423.9" x2="306.11" y2="423.9" stroke="#000" stroke-width="1.15"/>
<circle cx="340.59" cy="428.19" r="1.85" fill="#7cc2eb" fill-opacity="0.88"/>
<circle cx="339.68" cy="428.56" r="1.85" fill="#7cc2eb" fill-opacity="0.88"/>
<circle cx="336.71" cy="430.49" r="1.85" fill="#7cc2eb" fill-opacity="0.88"/>
<circle cx="344.68" cy="427.8" r="1.85" fill="#7cc2eb" fill-opacity="0.88"/>
<circle cx="346.56" cy="428.89" r="1.85" fill="#7cc2eb" fill-opacity="0.88"/>
<circle cx="339.33" cy="426.67" r="1.85" fill="#7cc2eb" fill-opacity="0.88"/>
<circle cx="336.35" cy="426.78" r="1.85" fill="#7cc2eb" fill-opacity="0.88"/>
<circle cx="341.39" cy="425.18" r="1.85" fill="#7cc2eb" fill-opacity="0.88"/>
<circle cx="342.26" cy="426.74" r="1.85" fill="#7cc2eb" fill-opacity="0.88"/>
<circle cx="347.73" cy="431.38" r="1.85" fill="#7cc2eb" fill-opacity="0.88"/>
<circle cx="338.97" cy="430.1" r="1.85" fill="#7cc2eb" fill-opacity="0.88"/>
<circle cx="346.47" cy="427.34" r="1.85" fill="#7cc2eb" fill-opacity="0.88"/>
<circle cx="345.48" cy="426.29" r="1.85" fill="#7cc2eb" fill-opacity="0.88"/>
<circle cx="340.52" cy="426.37" r="1.85" fill="#7cc2eb" fill-opacity="0.88"/>
<circle cx="347.27" cy="428.55" r="1.85" fill="#7cc2eb" fill-opacity="0.88"/>
<circle cx="345.69" cy="429.77" r="1.85" fill="#7cc2eb" fill-opacity="0.88"/>
<circle cx="339.22" cy="427.1" r="1.85" fill="#7cc2eb" fill-opacity="0.88"/>
<circle cx="342.33" cy="430.74" r="1.85" fill="#7cc2eb" fill-opacity="0.88"/>
<circle cx="335.9" cy="429.69" r="1.85" fill="#7cc2eb" fill-opacity="0.88"/>
<circle cx="340.25" cy="425.08" r="1.85" fill="#7cc2eb" fill-opacity="0.88"/>
<circle cx="338.12" cy="426.8" r="1.85" fill="#7cc2eb" fill-opacity="0.88"/>
<circle cx="346.75" cy="430.36" r="1.85" fill="#7cc2eb" fill-opacity="0.88"/>
<circle cx="335.93" cy="426.22" r="1.85" fill="#7cc2eb" fill-opacity="0.88"/>
<circle cx="337.04" cy="425.97" r="1.85" fill="#7cc2eb" fill-opacity="0.88"/>
<circle cx="339.64" cy="429.72" r="1.85" fill="#7cc2eb" fill-opacity="0.88"/>
<circle cx="334.85" cy="431.5" r="1.85" fill="#7cc2eb" fill-opacity="0.88"/>
<circle cx="336.36" cy="428.4" r="1.85" fill="#7cc2eb" fill-opacity="0.88"/>
<circle cx="339.64" cy="430.59" r="1.85" fill="#7cc2eb" fill-opacity="0.88"/>
<circle cx="342.3" cy="426.33" r="1.85" fill="#7cc2eb" fill-opacity="0.88"/>
<circle cx="334.81" cy="430.76" r="1.85" fill="#7cc2eb" fill-opacity="0.88"/>
<line x1="332.6" y1="427.3" x2="349.8" y2="427.3" stroke="#000" stroke-width="1.15"/>
<circle cx="384.76" cy="519.61" r="1.85" fill="#d05b88" fill-opacity="0.88"/>
<circle cx="391.08" cy="520.51" r="1.85" fill="#d05b88" fill-opacity="0.88"/>
<circle cx="388.73" cy="521.28" r="1.85" fill="#d05b88" fill-opacity="0.88"/>
<circle cx="380.36" cy="520.95" r="1.85" fill="#d05b88" fill-opacity="0.88"/>
<circle cx="384.02" cy="521.53" r="1.85" fill="#d05b88" fill-opacity="0.88"/>
<circle cx="379.61" cy="520.71" r="1.85" fill="#d05b88" fill-opacity="0.88"/>
<circle cx="389.41" cy="520.02" r="1.85" fill="#d05b88" fill-opacity="0.88"/>
<circle cx="379.42" cy="519.56" r="1.85" fill="#d05b88" fill-opacity="0.88"/>
<circle cx="382.91" cy="520.06" r="1.85" fill="#d05b88" fill-opacity="0.88"/>
<circle cx="384.69" cy="520.48" r="1.85" fill="#d05b88" fill-opacity="0.88"/>
<circle cx="378.32" cy="519.7" r="1.85" fill="#d05b88" fill-opacity="0.88"/>
<circle cx="382.3" cy="520.14" r="1.85" fill="#d05b88" fill-opacity="0.88"/>
<circle cx="385.69" cy="520.6" r="1.85" fill="#d05b88" fill-opacity="0.88"/>
<circle cx="384.12" cy="521.04" r="1.85" fill="#d05b88" fill-opacity="0.88"/>
<circle cx="386.83" cy="520.21" r="1.85" fill="#d05b88" fill-opacity="0.88"/>
<circle cx="387.03" cy="521.52" r="1.85" fill="#d05b88" fill-opacity="0.88"/>
<circle cx="382.24" cy="519.32" r="1.85" fill="#d05b88" fill-opacity="0.88"/>
<circle cx="391.02" cy="521.66" r="1.85" fill="#d05b88" fill-opacity="0.88"/>
<circle cx="381.11" cy="520" r="1.85" fill="#d05b88" fill-opacity="0.88"/>
<circle cx="379.93" cy="519.26" r="1.85" fill="#d05b88" fill-opacity="0.88"/>
<circle cx="391.26" cy="519.43" r="1.85" fill="#d05b88" fill-opacity="0.88"/>
<circle cx="382.75" cy="521.62" r="1.85" fill="#d05b88" fill-opacity="0.88"/>
<circle cx="390.39" cy="519.32" r="1.85" fill="#d05b88" fill-opacity="0.88"/>
<circle cx="390.23" cy="520.8" r="1.85" fill="#d05b88" fill-opacity="0.88"/>
<circle cx="389.65" cy="520" r="1.85" fill="#d05b88" fill-opacity="0.88"/>
<circle cx="387.16" cy="521.26" r="1.85" fill="#d05b88" fill-opacity="0.88"/>
<circle cx="387.56" cy="520.92" r="1.85" fill="#d05b88" fill-opacity="0.88"/>
<circle cx="390.88" cy="520.4" r="1.85" fill="#d05b88" fill-opacity="0.88"/>
<circle cx="383.67" cy="519.5" r="1.85" fill="#d05b88" fill-opacity="0.88"/>
<circle cx="384.68" cy="520.18" r="1.85" fill="#d05b88" fill-opacity="0.88"/>
<line x1="376.3" y1="520.4" x2="393.5" y2="520.4" stroke="#000" stroke-width="1.15"/>
<circle cx="433.29" cy="420.28" r="1.85" fill="#e9c259" fill-opacity="0.88"/>
<circle cx="426.98" cy="418.45" r="1.85" fill="#e9c259" fill-opacity="0.88"/>
<circle cx="430.56" cy="418.27" r="1.85" fill="#e9c259" fill-opacity="0.88"/>
<circle cx="426.06" cy="418.9" r="1.85" fill="#e9c259" fill-opacity="0.88"/>
<circle cx="422.71" cy="421.73" r="1.85" fill="#e9c259" fill-opacity="0.88"/>
<circle cx="425.96" cy="418.74" r="1.85" fill="#e9c259" fill-opacity="0.88"/>
<circle cx="428.26" cy="421.7" r="1.85" fill="#e9c259" fill-opacity="0.88"/>
<circle cx="433.88" cy="420.87" r="1.85" fill="#e9c259" fill-opacity="0.88"/>
<circle cx="427.87" cy="419.08" r="1.85" fill="#e9c259" fill-opacity="0.88"/>
<circle cx="432.3" cy="418.8" r="1.85" fill="#e9c259" fill-opacity="0.88"/>
<circle cx="431.98" cy="418.14" r="1.85" fill="#e9c259" fill-opacity="0.88"/>
<circle cx="429.56" cy="419.62" r="1.85" fill="#e9c259" fill-opacity="0.88"/>
<circle cx="434.28" cy="418.89" r="1.85" fill="#e9c259" fill-opacity="0.88"/>
<circle cx="427.99" cy="419.48" r="1.85" fill="#e9c259" fill-opacity="0.88"/>
<circle cx="429.86" cy="422.27" r="1.85" fill="#e9c259" fill-opacity="0.88"/>
<circle cx="425.02" cy="419.5" r="1.85" fill="#e9c259" fill-opacity="0.88"/>
<circle cx="431.46" cy="422.15" r="1.85" fill="#e9c259" fill-opacity="0.88"/>
<circle cx="429.31" cy="420.88" r="1.85" fill="#e9c259" fill-opacity="0.88"/>
<circle cx="423.67" cy="422.2" r="1.85" fill="#e9c259" fill-opacity="0.88"/>
<circle cx="432.71" cy="419.71" r="1.85" fill="#e9c259" fill-opacity="0.88"/>
<circle cx="430.18" cy="421.01" r="1.85" fill="#e9c259" fill-opacity="0.88"/>
<circle cx="428.22" cy="421.01" r="1.85" fill="#e9c259" fill-opacity="0.88"/>
<circle cx="427.65" cy="420.57" r="1.85" fill="#e9c259" fill-opacity="0.88"/>
<circle cx="425.58" cy="422.32" r="1.85" fill="#e9c259" fill-opacity="0.88"/>
<circle cx="426.14" cy="419.2" r="1.85" fill="#e9c259" fill-opacity="0.88"/>
<circle cx="430.11" cy="418.76" r="1.85" fill="#e9c259" fill-opacity="0.88"/>
<circle cx="422.89" cy="420.65" r="1.85" fill="#e9c259" fill-opacity="0.88"/>
<circle cx="433.65" cy="419.18" r="1.85" fill="#e9c259" fill-opacity="0.88"/>
<circle cx="430.83" cy="419.26" r="1.85" fill="#e9c259" fill-opacity="0.88"/>
<circle cx="424.11" cy="419.91" r="1.85" fill="#e9c259" fill-opacity="0.88"/>
<line x1="419.99" y1="419.9" x2="437.19" y2="419.9" stroke="#000" stroke-width="1.15"/>
<path d="M297.51 414.8V413.2H341.2V414.8" fill="none" stroke="#000" stroke-width="1.05"/>
<text x="319.36" y="411.6" text-anchor="middle" class="st">****</text>
<path d="M297.51 406.6V405H384.9V406.6" fill="none" stroke="#000" stroke-width="1.05"/>
<text x="341.2" y="403.4" text-anchor="middle" class="st">****</text>
<path d="M297.51 398.4V396.8H428.59V398.4" fill="none" stroke="#000" stroke-width="1.05"/>
<text x="363.05" y="395.2" text-anchor="middle" class="st">****</text>
<path d="M341.2 390.1V388.5H384.9V390.1" fill="none" stroke="#000" stroke-width="1.05"/>
<text x="363.05" y="386.9" text-anchor="middle" class="st">****</text>
<path d="M341.2 381.9V380.3H428.59V381.9" fill="none" stroke="#000" stroke-width="1.05"/>
<text x="384.9" y="378.7" text-anchor="middle" class="st">****</text>
<path d="M384.9 373.7V372.1H428.59V373.7" fill="none" stroke="#000" stroke-width="1.05"/>
<text x="406.74" y="370.5" text-anchor="middle" class="st">****</text>
<line x1="495.4" y1="365" x2="495.4" y2="529.3" stroke="#333333" stroke-width="1.1"/>
<line x1="494.9" y1="528.8" x2="679.2" y2="528.8" stroke="#333333" stroke-width="1.1"/>
<line x1="491.1" y1="506" x2="495.4" y2="506" stroke="#333333" stroke-width="1.1"/>
<text x="487" y="509.4" text-anchor="end" class="tk">3,000</text>
<line x1="491.1" y1="478.96" x2="495.4" y2="478.96" stroke="#333333" stroke-width="1.1"/>
<text x="487" y="482.36" text-anchor="end" class="tk">3,500</text>
<line x1="491.1" y1="451.92" x2="495.4" y2="451.92" stroke="#333333" stroke-width="1.1"/>
<text x="487" y="455.32" text-anchor="end" class="tk">4,000</text>
<line x1="491.1" y1="424.88" x2="495.4" y2="424.88" stroke="#333333" stroke-width="1.1"/>
<text x="487" y="428.28" text-anchor="end" class="tk">4,500</text>
<line x1="491.1" y1="397.84" x2="495.4" y2="397.84" stroke="#333333" stroke-width="1.1"/>
<text x="487" y="401.24" text-anchor="end" class="tk">5,000</text>
<line x1="491.1" y1="370.8" x2="495.4" y2="370.8" stroke="#333333" stroke-width="1.1"/>
<text x="487" y="374.2" text-anchor="end" class="tk">5,500</text>
<circle cx="516.28" cy="419.99" r="1.85" fill="#66f7d3" fill-opacity="0.88"/>
<circle cx="522.79" cy="424.54" r="1.85" fill="#66f7d3" fill-opacity="0.88"/>
<circle cx="519.74" cy="424.29" r="1.85" fill="#66f7d3" fill-opacity="0.88"/>
<circle cx="526.78" cy="422.46" r="1.85" fill="#66f7d3" fill-opacity="0.88"/>
<circle cx="518.55" cy="426.13" r="1.85" fill="#66f7d3" fill-opacity="0.88"/>
<circle cx="516.04" cy="420.68" r="1.85" fill="#66f7d3" fill-opacity="0.88"/>
<circle cx="515.6" cy="425.27" r="1.85" fill="#66f7d3" fill-opacity="0.88"/>
<circle cx="527.62" cy="424.74" r="1.85" fill="#66f7d3" fill-opacity="0.88"/>
<circle cx="519.98" cy="426.42" r="1.85" fill="#66f7d3" fill-opacity="0.88"/>
<circle cx="516.79" cy="426.04" r="1.85" fill="#66f7d3" fill-opacity="0.88"/>
<circle cx="517.44" cy="425.65" r="1.85" fill="#66f7d3" fill-opacity="0.88"/>
<circle cx="515.38" cy="424.74" r="1.85" fill="#66f7d3" fill-opacity="0.88"/>
<circle cx="527.3" cy="423" r="1.85" fill="#66f7d3" fill-opacity="0.88"/>
<circle cx="516.41" cy="420.08" r="1.85" fill="#66f7d3" fill-opacity="0.88"/>
<circle cx="515.16" cy="422.19" r="1.85" fill="#66f7d3" fill-opacity="0.88"/>
<circle cx="523.65" cy="418.78" r="1.85" fill="#66f7d3" fill-opacity="0.88"/>
<circle cx="527.89" cy="427.8" r="1.85" fill="#66f7d3" fill-opacity="0.88"/>
<circle cx="520.8" cy="426.05" r="1.85" fill="#66f7d3" fill-opacity="0.88"/>
<circle cx="524.81" cy="425.78" r="1.85" fill="#66f7d3" fill-opacity="0.88"/>
<circle cx="521.36" cy="425.62" r="1.85" fill="#66f7d3" fill-opacity="0.88"/>
<circle cx="519.51" cy="425.44" r="1.85" fill="#66f7d3" fill-opacity="0.88"/>
<circle cx="517.38" cy="420.7" r="1.85" fill="#66f7d3" fill-opacity="0.88"/>
<circle cx="520.85" cy="421.67" r="1.85" fill="#66f7d3" fill-opacity="0.88"/>
<circle cx="526.61" cy="421.14" r="1.85" fill="#66f7d3" fill-opacity="0.88"/>
<circle cx="520.65" cy="423.27" r="1.85" fill="#66f7d3" fill-opacity="0.88"/>
<circle cx="526.74" cy="427.56" r="1.85" fill="#66f7d3" fill-opacity="0.88"/>
<circle cx="519.58" cy="418.52" r="1.85" fill="#66f7d3" fill-opacity="0.88"/>
<circle cx="520.72" cy="424.86" r="1.85" fill="#66f7d3" fill-opacity="0.88"/>
<circle cx="524.65" cy="427.55" r="1.85" fill="#66f7d3" fill-opacity="0.88"/>
<circle cx="524.01" cy="427.26" r="1.85" fill="#66f7d3" fill-opacity="0.88"/>
<circle cx="515.8" cy="419.9" r="1.85" fill="#66f7d3" fill-opacity="0.88"/>
<circle cx="517.18" cy="421.98" r="1.85" fill="#66f7d3" fill-opacity="0.88"/>
<circle cx="525.2" cy="423.52" r="1.85" fill="#66f7d3" fill-opacity="0.88"/>
<circle cx="524.39" cy="423.54" r="1.85" fill="#66f7d3" fill-opacity="0.88"/>
<circle cx="526.76" cy="432.8" r="1.85" fill="#66f7d3" fill-opacity="0.88"/>
<circle cx="525.66" cy="436.7" r="1.85" fill="#66f7d3" fill-opacity="0.88"/>
<circle cx="526.16" cy="439.2" r="1.85" fill="#66f7d3" fill-opacity="0.88"/>
<circle cx="524.66" cy="431.6" r="1.85" fill="#66f7d3" fill-opacity="0.88"/>
<line x1="513.06" y1="423.1" x2="530.26" y2="423.1" stroke="#000" stroke-width="1.15"/>
<circle cx="561.09" cy="422.92" r="1.85" fill="#7cc2eb" fill-opacity="0.88"/>
<circle cx="560.95" cy="429.65" r="1.85" fill="#7cc2eb" fill-opacity="0.88"/>
<circle cx="569.96" cy="433.48" r="1.85" fill="#7cc2eb" fill-opacity="0.88"/>
<circle cx="564.96" cy="430.46" r="1.85" fill="#7cc2eb" fill-opacity="0.88"/>
<circle cx="562.04" cy="431.67" r="1.85" fill="#7cc2eb" fill-opacity="0.88"/>
<circle cx="563.71" cy="428.57" r="1.85" fill="#7cc2eb" fill-opacity="0.88"/>
<circle cx="571.54" cy="427.12" r="1.85" fill="#7cc2eb" fill-opacity="0.88"/>
<circle cx="568.78" cy="424.07" r="1.85" fill="#7cc2eb" fill-opacity="0.88"/>
<circle cx="559.97" cy="430.8" r="1.85" fill="#7cc2eb" fill-opacity="0.88"/>
<circle cx="564.74" cy="434.14" r="1.85" fill="#7cc2eb" fill-opacity="0.88"/>
<circle cx="562.81" cy="427.79" r="1.85" fill="#7cc2eb" fill-opacity="0.88"/>
<circle cx="571.49" cy="427.97" r="1.85" fill="#7cc2eb" fill-opacity="0.88"/>
<circle cx="568.49" cy="425.45" r="1.85" fill="#7cc2eb" fill-opacity="0.88"/>
<circle cx="570.28" cy="431.05" r="1.85" fill="#7cc2eb" fill-opacity="0.88"/>
<circle cx="564.52" cy="429.75" r="1.85" fill="#7cc2eb" fill-opacity="0.88"/>
<circle cx="563.89" cy="425.34" r="1.85" fill="#7cc2eb" fill-opacity="0.88"/>
<circle cx="570.51" cy="425.73" r="1.85" fill="#7cc2eb" fill-opacity="0.88"/>
<circle cx="561.65" cy="431.69" r="1.85" fill="#7cc2eb" fill-opacity="0.88"/>
<circle cx="559.4" cy="424.55" r="1.85" fill="#7cc2eb" fill-opacity="0.88"/>
<circle cx="559.6" cy="433.21" r="1.85" fill="#7cc2eb" fill-opacity="0.88"/>
<circle cx="561.24" cy="425.93" r="1.85" fill="#7cc2eb" fill-opacity="0.88"/>
<circle cx="571.24" cy="423.88" r="1.85" fill="#7cc2eb" fill-opacity="0.88"/>
<circle cx="567.18" cy="426.46" r="1.85" fill="#7cc2eb" fill-opacity="0.88"/>
<circle cx="565.73" cy="431.72" r="1.85" fill="#7cc2eb" fill-opacity="0.88"/>
<circle cx="568.99" cy="431.56" r="1.85" fill="#7cc2eb" fill-opacity="0.88"/>
<circle cx="566.26" cy="428.59" r="1.85" fill="#7cc2eb" fill-opacity="0.88"/>
<circle cx="567.74" cy="432.55" r="1.85" fill="#7cc2eb" fill-opacity="0.88"/>
<circle cx="570.69" cy="425.38" r="1.85" fill="#7cc2eb" fill-opacity="0.88"/>
<circle cx="571.38" cy="431.58" r="1.85" fill="#7cc2eb" fill-opacity="0.88"/>
<circle cx="564.69" cy="429.41" r="1.85" fill="#7cc2eb" fill-opacity="0.88"/>
<circle cx="567.05" cy="425.5" r="1.85" fill="#7cc2eb" fill-opacity="0.88"/>
<circle cx="568.45" cy="423.72" r="1.85" fill="#7cc2eb" fill-opacity="0.88"/>
<circle cx="570.42" cy="429.98" r="1.85" fill="#7cc2eb" fill-opacity="0.88"/>
<circle cx="566.49" cy="424.08" r="1.85" fill="#7cc2eb" fill-opacity="0.88"/>
<circle cx="560.22" cy="436.6" r="1.85" fill="#7cc2eb" fill-opacity="0.88"/>
<circle cx="562.42" cy="438.6" r="1.85" fill="#7cc2eb" fill-opacity="0.88"/>
<circle cx="567.42" cy="436.1" r="1.85" fill="#7cc2eb" fill-opacity="0.88"/>
<line x1="556.82" y1="426.6" x2="574.02" y2="426.6" stroke="#000" stroke-width="1.15"/>
<circle cx="610.04" cy="518.93" r="1.85" fill="#d05b88" fill-opacity="0.88"/>
<circle cx="610.35" cy="519.31" r="1.85" fill="#d05b88" fill-opacity="0.88"/>
<circle cx="615.34" cy="519.99" r="1.85" fill="#d05b88" fill-opacity="0.88"/>
<circle cx="613.26" cy="519.63" r="1.85" fill="#d05b88" fill-opacity="0.88"/>
<circle cx="608.8" cy="519.35" r="1.85" fill="#d05b88" fill-opacity="0.88"/>
<circle cx="615.73" cy="520.1" r="1.85" fill="#d05b88" fill-opacity="0.88"/>
<circle cx="610.91" cy="519.35" r="1.85" fill="#d05b88" fill-opacity="0.88"/>
<circle cx="613.96" cy="517.92" r="1.85" fill="#d05b88" fill-opacity="0.88"/>
<circle cx="610.94" cy="519.55" r="1.85" fill="#d05b88" fill-opacity="0.88"/>
<circle cx="610.25" cy="518.21" r="1.85" fill="#d05b88" fill-opacity="0.88"/>
<circle cx="604.65" cy="519.45" r="1.85" fill="#d05b88" fill-opacity="0.88"/>
<circle cx="612.4" cy="518.9" r="1.85" fill="#d05b88" fill-opacity="0.88"/>
<circle cx="611.99" cy="519.93" r="1.85" fill="#d05b88" fill-opacity="0.88"/>
<circle cx="615.14" cy="519.64" r="1.85" fill="#d05b88" fill-opacity="0.88"/>
<circle cx="603.48" cy="519.96" r="1.85" fill="#d05b88" fill-opacity="0.88"/>
<circle cx="603.05" cy="518.76" r="1.85" fill="#d05b88" fill-opacity="0.88"/>
<circle cx="611.67" cy="520.29" r="1.85" fill="#d05b88" fill-opacity="0.88"/>
<circle cx="604.95" cy="518.36" r="1.85" fill="#d05b88" fill-opacity="0.88"/>
<circle cx="610.61" cy="518.39" r="1.85" fill="#d05b88" fill-opacity="0.88"/>
<circle cx="602.67" cy="519.1" r="1.85" fill="#d05b88" fill-opacity="0.88"/>
<circle cx="606.36" cy="519.58" r="1.85" fill="#d05b88" fill-opacity="0.88"/>
<circle cx="615.76" cy="518.55" r="1.85" fill="#d05b88" fill-opacity="0.88"/>
<circle cx="614.14" cy="520.28" r="1.85" fill="#d05b88" fill-opacity="0.88"/>
<circle cx="610.1" cy="520.24" r="1.85" fill="#d05b88" fill-opacity="0.88"/>
<circle cx="607.56" cy="517.91" r="1.85" fill="#d05b88" fill-opacity="0.88"/>
<circle cx="614.87" cy="519.45" r="1.85" fill="#d05b88" fill-opacity="0.88"/>
<circle cx="603.54" cy="518.66" r="1.85" fill="#d05b88" fill-opacity="0.88"/>
<circle cx="612.04" cy="520.42" r="1.85" fill="#d05b88" fill-opacity="0.88"/>
<circle cx="609.04" cy="520.1" r="1.85" fill="#d05b88" fill-opacity="0.88"/>
<circle cx="606.8" cy="518.58" r="1.85" fill="#d05b88" fill-opacity="0.88"/>
<line x1="600.58" y1="518.9" x2="617.78" y2="518.9" stroke="#000" stroke-width="1.15"/>
<circle cx="652.87" cy="423.86" r="1.85" fill="#e9c259" fill-opacity="0.88"/>
<circle cx="651.01" cy="422.3" r="1.85" fill="#e9c259" fill-opacity="0.88"/>
<circle cx="651.03" cy="420.26" r="1.85" fill="#e9c259" fill-opacity="0.88"/>
<circle cx="647.95" cy="420.53" r="1.85" fill="#e9c259" fill-opacity="0.88"/>
<circle cx="646.78" cy="420.47" r="1.85" fill="#e9c259" fill-opacity="0.88"/>
<circle cx="647.91" cy="422.24" r="1.85" fill="#e9c259" fill-opacity="0.88"/>
<circle cx="651.2" cy="422.55" r="1.85" fill="#e9c259" fill-opacity="0.88"/>
<circle cx="655" cy="423.83" r="1.85" fill="#e9c259" fill-opacity="0.88"/>
<circle cx="654.91" cy="423.22" r="1.85" fill="#e9c259" fill-opacity="0.88"/>
<circle cx="658.77" cy="423.13" r="1.85" fill="#e9c259" fill-opacity="0.88"/>
<circle cx="648.48" cy="424.24" r="1.85" fill="#e9c259" fill-opacity="0.88"/>
<circle cx="650.21" cy="421.08" r="1.85" fill="#e9c259" fill-opacity="0.88"/>
<circle cx="656.48" cy="420.71" r="1.85" fill="#e9c259" fill-opacity="0.88"/>
<circle cx="647.19" cy="423.89" r="1.85" fill="#e9c259" fill-opacity="0.88"/>
<circle cx="658.46" cy="420.51" r="1.85" fill="#e9c259" fill-opacity="0.88"/>
<circle cx="647.42" cy="420.22" r="1.85" fill="#e9c259" fill-opacity="0.88"/>
<circle cx="650.06" cy="423.78" r="1.85" fill="#e9c259" fill-opacity="0.88"/>
<circle cx="653.85" cy="419.82" r="1.85" fill="#e9c259" fill-opacity="0.88"/>
<circle cx="651.44" cy="420.6" r="1.85" fill="#e9c259" fill-opacity="0.88"/>
<circle cx="657.14" cy="421.22" r="1.85" fill="#e9c259" fill-opacity="0.88"/>
<circle cx="659.03" cy="424" r="1.85" fill="#e9c259" fill-opacity="0.88"/>
<circle cx="658.59" cy="421.98" r="1.85" fill="#e9c259" fill-opacity="0.88"/>
<circle cx="653.6" cy="422.84" r="1.85" fill="#e9c259" fill-opacity="0.88"/>
<circle cx="655.01" cy="422.66" r="1.85" fill="#e9c259" fill-opacity="0.88"/>
<circle cx="649.7" cy="423.86" r="1.85" fill="#e9c259" fill-opacity="0.88"/>
<circle cx="657.52" cy="423.87" r="1.85" fill="#e9c259" fill-opacity="0.88"/>
<circle cx="653.07" cy="422.5" r="1.85" fill="#e9c259" fill-opacity="0.88"/>
<circle cx="659.03" cy="421.13" r="1.85" fill="#e9c259" fill-opacity="0.88"/>
<circle cx="647.15" cy="421.64" r="1.85" fill="#e9c259" fill-opacity="0.88"/>
<circle cx="654.5" cy="424.21" r="1.85" fill="#e9c259" fill-opacity="0.88"/>
<circle cx="648.94" cy="428.6" r="1.85" fill="#e9c259" fill-opacity="0.88"/>
<circle cx="651.94" cy="428.3" r="1.85" fill="#e9c259" fill-opacity="0.88"/>
<circle cx="654.94" cy="427.4" r="1.85" fill="#e9c259" fill-opacity="0.88"/>
<line x1="644.34" y1="421.9" x2="661.54" y2="421.9" stroke="#000" stroke-width="1.15"/>
<path d="M521.66 414.8V413.2H565.42V414.8" fill="none" stroke="#000" stroke-width="1.05"/>
<text x="543.54" y="411.6" text-anchor="middle" class="st">***</text>
<path d="M521.66 406.6V405H609.18V406.6" fill="none" stroke="#000" stroke-width="1.05"/>
<text x="565.42" y="403.4" text-anchor="middle" class="st">****</text>
<path d="M521.66 398.4V396.8H652.94V398.4" fill="none" stroke="#000" stroke-width="1.05"/>
<text x="587.3" y="395.9" text-anchor="middle" class="ns">ns</text>
<path d="M565.42 390.1V388.5H609.18V390.1" fill="none" stroke="#000" stroke-width="1.05"/>
<text x="587.3" y="386.9" text-anchor="middle" class="st">****</text>
<path d="M565.42 381.9V380.3H652.94V381.9" fill="none" stroke="#000" stroke-width="1.05"/>
<text x="609.18" y="378.7" text-anchor="middle" class="st">****</text>
<path d="M609.18 373.7V372.1H652.94V373.7" fill="none" stroke="#000" stroke-width="1.05"/>
<text x="631.06" y="370.5" text-anchor="middle" class="st">****</text>
<rect x="46.4" y="172.8" width="184.3" height="13.7" fill="#d9d9d9"/>
<text x="138.55" y="181.9" text-anchor="middle" class="sp">Heterozygous</text>
<rect x="271.1" y="172.8" width="183.8" height="13.7" fill="#d9d9d9"/>
<text x="363" y="181.9" text-anchor="middle" class="sp">Homozygous</text>
<rect x="495.3" y="172.8" width="183.9" height="13.7" fill="#d9d9d9"/>
<text x="587.25" y="181.9" text-anchor="middle" class="sp">Derived alleles</text>
<text x="0.8" y="8.3" class="lt">a</text>
<text x="234.6" y="8.4" class="lt">b</text>
<text x="469" y="8.3" class="lt">c</text>
<text x="0.8" y="181.9" class="lt">d</text>
<text transform="translate(9.4,83.4) rotate(-90)" text-anchor="middle" class="yt">0-fold (nonsynonymous)</text>
<text transform="translate(243.95,83) rotate(-90)" text-anchor="middle" class="yt">4-fold (synonymous)</text>
<text transform="translate(477.6,83) rotate(-90)" text-anchor="middle" class="yt">0-fold / 4-fold heterozygosity</text>
<text transform="translate(9.35,269.4) rotate(-90)" text-anchor="middle" class="yt">Deleterious (DEL)</text>
<text transform="translate(9.4,447) rotate(-90)" text-anchor="middle" class="yt">Loss of function (LOF)</text>
<text transform="translate(76.71,538.3) rotate(-30)" text-anchor="end" class="xl">C. cathayensis</text>
<text transform="translate(120.57,538.3) rotate(-30)" text-anchor="end" class="xl">C. dabieshanensis</text>
<text transform="translate(164.43,538.3) rotate(-30)" text-anchor="end" class="xl">C. hunanensis</text>
<text transform="translate(208.29,538.3) rotate(-30)" text-anchor="end" class="xl">C. tonkinensis</text>
<text transform="translate(306.31,538.3) rotate(-30)" text-anchor="end" class="xl">C. cathayensis</text>
<text transform="translate(350,538.3) rotate(-30)" text-anchor="end" class="xl">C. dabieshanensis</text>
<text transform="translate(393.7,538.3) rotate(-30)" text-anchor="end" class="xl">C. hunanensis</text>
<text transform="translate(437.39,538.3) rotate(-30)" text-anchor="end" class="xl">C. tonkinensis</text>
<text transform="translate(529.16,538.3) rotate(-30)" text-anchor="end" class="xl">C. cathayensis</text>
<text transform="translate(572.92,538.3) rotate(-30)" text-anchor="end" class="xl">C. dabieshanensis</text>
<text transform="translate(616.68,538.3) rotate(-30)" text-anchor="end" class="xl">C. hunanensis</text>
<text transform="translate(660.44,538.3) rotate(-30)" text-anchor="end" class="xl">C. tonkinensis</text>
</svg>
</body></html>
